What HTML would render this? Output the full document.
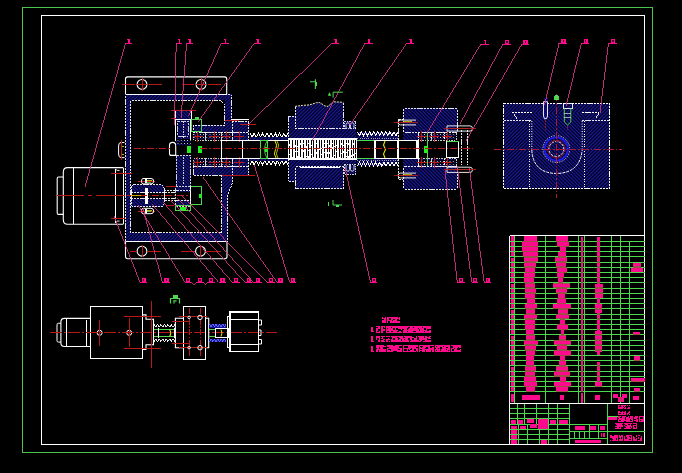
<!DOCTYPE html>
<html><head><meta charset="utf-8"><title>drawing</title>
<style>html,body{margin:0;padding:0;background:#000;width:682px;height:473px;overflow:hidden;font-family:"Liberation Sans",sans-serif;}
svg{display:block} line,rect,polyline{shape-rendering:crispEdges}</style></head>
<body><svg width="682" height="473" viewBox="0 0 682 473">
<rect width="682" height="473" fill="#000"/>
<defs>
<pattern id="hA" patternUnits="userSpaceOnUse" width="2.5" height="2.5" patternTransform="rotate(45)">
<rect width="2.5" height="2.5" fill="#04042c"/><rect width="1" height="2.5" fill="#1c1cac"/></pattern>
<pattern id="hB" patternUnits="userSpaceOnUse" width="2.5" height="2.5" patternTransform="rotate(-45)">
<rect width="2.5" height="2.5" fill="#04042c"/><rect width="1" height="2.5" fill="#1c1cac"/></pattern>
<pattern id="brg" patternUnits="userSpaceOnUse" width="3.2" height="3">
<rect width="3.2" height="3" fill="#020218"/><rect x="0" y="0" width="1" height="1" fill="#2020e0"/><rect x="1.6" y="1.5" width="1" height="1" fill="#e0e0ff"/></pattern>
<pattern id="thr" patternUnits="userSpaceOnUse" width="2.3" height="19">
<rect width="2.3" height="19" fill="#000"/><rect width="1.4" height="19" fill="#fff"/></pattern>
</defs>
<rect x="22.6" y="7.4" width="630.1" height="445.1" fill="none" stroke="#4cc44c" stroke-width="1.3" />
<rect x="41.6" y="15.6" width="603" height="428.8" fill="none" stroke="#ffffff" stroke-width="1.2" />
<path d="M125.5,94.4 V79 Q125.5,76.9 127.6,76.9 H224.6 Q226.7,76.9 226.7,79 V94.4" fill="none" stroke="#ffffff" stroke-width="1.1"/>
<circle cx="142" cy="84.4" r="4.9" fill="none" stroke="#ffffff" stroke-width="1.1"/>
<circle cx="201" cy="84.4" r="4.9" fill="none" stroke="#ffffff" stroke-width="1.1"/>
<line x1="122" y1="84.4" x2="135" y2="84.4" stroke="#b81818" stroke-width="1.1"/>
<line x1="137" y1="84.4" x2="147" y2="84.4" stroke="#b81818" stroke-width="1.1"/>
<line x1="149" y1="84.4" x2="161.5" y2="84.4" stroke="#b81818" stroke-width="1.1"/>
<line x1="181.5" y1="84.4" x2="194" y2="84.4" stroke="#b81818" stroke-width="1.1"/>
<line x1="196" y1="84.4" x2="206" y2="84.4" stroke="#b81818" stroke-width="1.1"/>
<line x1="208" y1="84.4" x2="220.6" y2="84.4" stroke="#b81818" stroke-width="1.1"/>
<line x1="142" y1="78" x2="142" y2="91" stroke="#b81818" stroke-width="1"/>
<line x1="201" y1="78" x2="201" y2="91" stroke="#b81818" stroke-width="1"/>
<path d="M125.5,241.3 V256.6 Q125.5,258.8 127.7,258.8 H224.8 Q227,258.8 227,256.6 V241.3" fill="none" stroke="#ffffff" stroke-width="1.1"/>
<circle cx="142" cy="251.2" r="4.9" fill="none" stroke="#ffffff" stroke-width="1.1"/>
<circle cx="200.5" cy="251.2" r="4.9" fill="none" stroke="#ffffff" stroke-width="1.1"/>
<line x1="130" y1="251.2" x2="137" y2="251.2" stroke="#b81818" stroke-width="1.1"/>
<line x1="147" y1="251.2" x2="161" y2="251.2" stroke="#b81818" stroke-width="1.1"/>
<line x1="181" y1="251.2" x2="195" y2="251.2" stroke="#b81818" stroke-width="1.1"/>
<line x1="206" y1="251.2" x2="221" y2="251.2" stroke="#b81818" stroke-width="1.1"/>
<line x1="142" y1="245" x2="142" y2="257" stroke="#b81818" stroke-width="1"/>
<line x1="200.5" y1="245" x2="200.5" y2="257" stroke="#b81818" stroke-width="1"/>
<rect x="125.5" y="94.4" width="5.1" height="146.9" fill="url(#hA)" stroke="none" stroke-width="1" />
<rect x="125.5" y="94.4" width="106" height="5.9" fill="url(#hA)" stroke="none" stroke-width="1" />
<rect x="224.5" y="94.4" width="7" height="31.6" fill="url(#hA)" stroke="none" stroke-width="1" />
<rect x="193" y="125.4" width="38.5" height="7" fill="url(#hA)" stroke="none" stroke-width="1" />
<rect x="231.5" y="120.8" width="17" height="12.2" fill="url(#hA)" stroke="none" stroke-width="1" />
<rect x="193" y="166" width="39.4" height="9.3" fill="url(#hA)" stroke="none" stroke-width="1" />
<rect x="232.4" y="158.8" width="16.1" height="16.5" fill="url(#hA)" stroke="none" stroke-width="1" />
<rect x="221.6" y="175" width="6.3" height="66.3" fill="url(#hA)" stroke="none" stroke-width="1" />
<rect x="125.5" y="232.8" width="102.4" height="8.5" fill="url(#hA)" stroke="none" stroke-width="1" />
<rect x="193" y="132.4" width="39" height="7.8" fill="url(#brg)" stroke="none" stroke-width="1" />
<rect x="193" y="158.8" width="39" height="7.4" fill="url(#brg)" stroke="none" stroke-width="1" />
<rect x="232" y="132.4" width="16.5" height="7.8" fill="url(#hA)" stroke="none" stroke-width="1" />
<polygon points="221.6,166 232.4,166 232.4,183.4 227.9,194.2 221.6,194.2" fill="url(#hA)" stroke="none" stroke-width="1"/>
<polyline points="130.6,232.8 130.6,100.6 221,100.6 224.3,103.8 224.3,125.6 193.2,125.6 193.2,132.4" fill="none" stroke="#ffffff" stroke-width="0.9" stroke-dasharray="2.2 0.9"/>
<polyline points="125.8,241 125.8,94.7 231.2,94.7 231.2,121 248.4,121 248.4,140" fill="none" stroke="#ffffff" stroke-width="0.9" stroke-dasharray="2.2 0.9"/>
<polyline points="193.2,166.2 193.2,175 221.6,175 221.6,232.8 130.6,232.8" fill="none" stroke="#ffffff" stroke-width="0.9" stroke-dasharray="2.2 0.9"/>
<polyline points="248.4,158.8 248.4,175.2 232.4,175.2 232.4,183.4 227.9,194.2 227.9,241 125.8,241" fill="none" stroke="#ffffff" stroke-width="0.9" stroke-dasharray="2.2 0.9"/>
<line x1="232.4" y1="158.8" x2="232.4" y2="175" stroke="#ffffff" stroke-width="0.9" stroke-dasharray="2.2 0.9"/>
<line x1="193" y1="132.6" x2="248.5" y2="132.6" stroke="#ffffff" stroke-width="0.9" stroke-dasharray="2.2 0.9"/>
<line x1="193" y1="166" x2="248.5" y2="166" stroke="#ffffff" stroke-width="0.9" stroke-dasharray="2.2 0.9"/>
<line x1="222" y1="175.5" x2="255" y2="175.5" stroke="#b81818" stroke-width="1"/>
<line x1="125.5" y1="94.5" x2="226.7" y2="94.5" stroke="#ffffff" stroke-width="1.1"/>
<line x1="125.5" y1="241.3" x2="227" y2="241.3" stroke="#ffffff" stroke-width="1.1"/>
<line x1="231" y1="119.8" x2="248.5" y2="119.8" stroke="#ffffff" stroke-width="1.1"/>
<line x1="225" y1="120.8" x2="238.5" y2="120.8" stroke="#b81818" stroke-width="1"/>
<line x1="240" y1="124.5" x2="256" y2="124.5" stroke="#b81818" stroke-width="1"/>
<rect x="193.5" y="132.8" width="11.5" height="7.2" fill="none" stroke="#ffffff" stroke-width="0.8" stroke-dasharray="1.5 1" />
<rect x="193.5" y="158.8" width="11.5" height="7.2" fill="none" stroke="#ffffff" stroke-width="0.8" stroke-dasharray="1.5 1" />
<rect x="205" y="132.8" width="16" height="7.2" fill="none" stroke="#ffffff" stroke-width="0.8" stroke-dasharray="1.5 1" />
<rect x="205" y="158.8" width="16" height="7.2" fill="none" stroke="#ffffff" stroke-width="0.8" stroke-dasharray="1.5 1" />
<rect x="221" y="132.8" width="11" height="7.2" fill="none" stroke="#ffffff" stroke-width="0.8" stroke-dasharray="1.5 1" />
<rect x="221" y="158.8" width="11" height="7.2" fill="none" stroke="#ffffff" stroke-width="0.8" stroke-dasharray="1.5 1" />
<line x1="232.4" y1="121" x2="232.4" y2="140" stroke="#ffffff" stroke-width="0.9" stroke-dasharray="2.2 0.9"/>
<line x1="192.5" y1="136.4" x2="202.5" y2="136.4" stroke="#b81818" stroke-width="1"/>
<line x1="197.5" y1="131" x2="197.5" y2="142" stroke="#b81818" stroke-width="1"/>
<line x1="192.5" y1="162.4" x2="202.5" y2="162.4" stroke="#b81818" stroke-width="1"/>
<line x1="197.5" y1="157" x2="197.5" y2="168" stroke="#b81818" stroke-width="1"/>
<line x1="209" y1="136.4" x2="219" y2="136.4" stroke="#b81818" stroke-width="1"/>
<line x1="214" y1="131" x2="214" y2="142" stroke="#b81818" stroke-width="1"/>
<line x1="209" y1="162.4" x2="219" y2="162.4" stroke="#b81818" stroke-width="1"/>
<line x1="214" y1="157" x2="214" y2="168" stroke="#b81818" stroke-width="1"/>
<line x1="221" y1="136.4" x2="231" y2="136.4" stroke="#b81818" stroke-width="1"/>
<line x1="226" y1="131" x2="226" y2="142" stroke="#b81818" stroke-width="1"/>
<line x1="221" y1="162.4" x2="231" y2="162.4" stroke="#b81818" stroke-width="1"/>
<line x1="226" y1="157" x2="226" y2="168" stroke="#b81818" stroke-width="1"/>
<line x1="234" y1="136.4" x2="244" y2="136.4" stroke="#b81818" stroke-width="1"/>
<line x1="239" y1="131" x2="239" y2="142" stroke="#b81818" stroke-width="1"/>
<line x1="234" y1="162.4" x2="244" y2="162.4" stroke="#b81818" stroke-width="1"/>
<line x1="239" y1="157" x2="239" y2="168" stroke="#b81818" stroke-width="1"/>
<rect x="175.4" y="110.3" width="15.6" height="9.5" fill="url(#hB)" stroke="none" stroke-width="1" />
<rect x="175.4" y="110.3" width="15.6" height="9.5" fill="none" stroke="#ffffff" stroke-width="1" />
<rect x="176.5" y="119.8" width="13.9" height="19.6" fill="url(#hB)" stroke="none" stroke-width="1" />
<rect x="175.8" y="119.8" width="14.8" height="20.4" fill="none" stroke="#ffffff" stroke-width="1" />
<rect x="177.8" y="121.2" width="10.4" height="15" fill="none" stroke="#ffffff" stroke-width="0.8" stroke-dasharray="2.2 0.9" />
<line x1="183.5" y1="121" x2="183.5" y2="138" stroke="#ffffff" stroke-width="0.8" stroke-dasharray="1.5 1"/>
<line x1="171" y1="110.5" x2="196" y2="110.5" stroke="#b81818" stroke-width="1"/>
<line x1="171" y1="118" x2="176" y2="118" stroke="#b81818" stroke-width="1"/>
<rect x="176" y="155.3" width="15" height="31" fill="url(#hB)" stroke="none" stroke-width="1" />
<rect x="176.4" y="155.6" width="14.2" height="30.4" fill="none" stroke="#ffffff" stroke-width="0.8" stroke-dasharray="2.2 0.9" />
<line x1="183.5" y1="157" x2="183.5" y2="185" stroke="#ffffff" stroke-width="0.8" stroke-dasharray="1.5 1"/>
<rect x="191.9" y="119.2" width="9.5" height="12.3" fill="none" stroke="#4ed84e" stroke-width="1" />
<rect x="195.3" y="117" width="3.5" height="2.4" fill="#4ed84e" stroke="none" stroke-width="1" />
<rect x="186.8" y="146.2" width="4.4" height="6.8" fill="#22ee22" stroke="none" stroke-width="1" />
<rect x="197.8" y="146.2" width="3.8" height="6.8" fill="#22ee22" stroke="none" stroke-width="1" />
<path d="M175.7,155.4 H171.5 Q169.5,155.4 169.5,153.4 V145.5 Q169.5,142.4 172.6,142.4 Q175.7,142.4 175.7,145.5 Z" fill="none" stroke="#ffffff" stroke-width="1.1"/>
<rect x="175.7" y="140.4" width="15.3" height="5.1" fill="url(#brg)" stroke="none" stroke-width="1" />
<line x1="221.3" y1="140.4" x2="221.3" y2="158.8" stroke="#ffffff" stroke-width="1.1"/>
<line x1="221.3" y1="140.4" x2="288.5" y2="140.4" stroke="#ffffff" stroke-width="1.1"/>
<line x1="221.3" y1="158.8" x2="288.5" y2="158.8" stroke="#ffffff" stroke-width="1.1"/>
<line x1="242.2" y1="140.4" x2="242.2" y2="158.8" stroke="#ffffff" stroke-width="1.1"/>
<line x1="260.6" y1="140.4" x2="260.6" y2="158.8" stroke="#ffffff" stroke-width="1.1"/>
<rect x="260.6" y="140.6" width="6.4" height="18" fill="none" stroke="#4ed84e" stroke-width="1" />
<path d="M267,141 Q262,149.6 267,158.2" fill="none" stroke="#4ed84e" stroke-width="0.9"/>
<rect x="265" y="147" width="2.5" height="5" fill="#22ee22" stroke="none" stroke-width="1" />
<path d="M275,141 Q278,145 275.5,149.5 Q273,154 276,158" fill="none" stroke="#e8e800" stroke-width="1"/>
<path d="M277,141 Q280,145 277.5,149.5 Q275,154 278,158" fill="none" stroke="#e8e800" stroke-width="0.8"/>
<polyline points="250,133.2 252.11,137.2 254.22,133.2 256.33,137.2 258.44,133.2 260.56,137.2 262.67,133.2 264.78,137.2 266.89,133.2 269,137.2 271.11,133.2 273.22,137.2 275.33,133.2 277.44,137.2 279.56,133.2 281.67,137.2 283.78,133.2 285.89,137.2 288,133.2" fill="none" stroke="#ffffff" stroke-width="1"/>
<polyline points="250,164.8 252.11,160.8 254.22,164.8 256.33,160.8 258.44,164.8 260.56,160.8 262.67,164.8 264.78,160.8 266.89,164.8 269,160.8 271.11,164.8 273.22,160.8 275.33,164.8 277.44,160.8 279.56,164.8 281.67,160.8 283.78,164.8 285.89,160.8 288,164.8" fill="none" stroke="#ffffff" stroke-width="1"/>
<rect x="250" y="137.2" width="38" height="2.6" fill="url(#hA)" stroke="none" stroke-width="1" />
<rect x="250" y="159.2" width="38" height="1.6" fill="url(#hA)" stroke="none" stroke-width="1" />
<rect x="357.4" y="131.8" width="40.6" height="8" fill="url(#hA)" stroke="none" stroke-width="1" />
<rect x="357.4" y="159.2" width="40.6" height="7.2" fill="url(#hA)" stroke="none" stroke-width="1" />
<polyline points="357.4,131.8 359.43,135.6 361.46,131.8 363.49,135.6 365.52,131.8 367.55,135.6 369.58,131.8 371.61,135.6 373.64,131.8 375.67,135.6 377.7,131.8 379.73,135.6 381.76,131.8 383.79,135.6 385.82,131.8 387.85,135.6 389.88,131.8 391.91,135.6 393.94,131.8 395.97,135.6 398,131.8" fill="none" stroke="#ffffff" stroke-width="1"/>
<polyline points="357.4,166 359.43,162.2 361.46,166 363.49,162.2 365.52,166 367.55,162.2 369.58,166 371.61,162.2 373.64,166 375.67,162.2 377.7,166 379.73,162.2 381.76,166 383.79,162.2 385.82,166 387.85,162.2 389.88,166 391.91,162.2 393.94,166 395.97,162.2 398,166" fill="none" stroke="#ffffff" stroke-width="1"/>
<line x1="357.4" y1="138.8" x2="398" y2="138.8" stroke="#ffffff" stroke-width="0.6" stroke-dasharray="1 1.2"/>
<line x1="357.4" y1="160" x2="398" y2="160" stroke="#ffffff" stroke-width="0.6" stroke-dasharray="1 1.2"/>
<path d="M295.1,106.4 L302.3,105.4 L309.5,104.9 L316.7,102.6 L319.8,102.6 L324.9,105.9 L328,106.4 L333.1,101.8 L343.4,102.3 L343.8,128.8 H295.2 Z" fill="url(#hA)" stroke="none" stroke-width="1"/>
<path d="M295.1,106.4 L302.3,105.4 L309.5,104.9 L316.7,102.6 L319.8,102.6 L324.9,105.9 L328,106.4 L333.1,101.8 L343.4,102.3" fill="none" stroke="#f0f0a0" stroke-width="1" stroke-dasharray="2 1"/>
<line x1="295.5" y1="106.6" x2="295.5" y2="128.8" stroke="#ffffff" stroke-width="0.9" stroke-dasharray="2.2 0.9"/>
<line x1="343.5" y1="103" x2="343.5" y2="128.8" stroke="#ffffff" stroke-width="0.9" stroke-dasharray="2.2 0.9"/>
<rect x="288.5" y="116.1" width="6.7" height="22.2" fill="url(#hA)" stroke="none" stroke-width="1" />
<line x1="288.8" y1="116.3" x2="295.2" y2="116.3" stroke="#ffffff" stroke-width="0.9" stroke-dasharray="2.2 0.9"/>
<line x1="288.8" y1="116.3" x2="288.8" y2="138.3" stroke="#ffffff" stroke-width="0.9" stroke-dasharray="2.2 0.9"/>
<rect x="288.5" y="128.8" width="67.5" height="9.8" fill="url(#hA)" stroke="none" stroke-width="1" />
<line x1="295.2" y1="128.9" x2="343.8" y2="128.9" stroke="#ffffff" stroke-width="0.9" stroke-dasharray="2.2 0.9"/>
<line x1="288.5" y1="138.4" x2="356" y2="138.4" stroke="#ffffff" stroke-width="0.9" stroke-dasharray="2.2 0.9"/>
<rect x="343.8" y="121.4" width="12.2" height="7.4" fill="url(#hB)" stroke="none" stroke-width="1" />
<rect x="344" y="121.6" width="11.6" height="7.2" fill="none" stroke="#ffffff" stroke-width="0.8" stroke-dasharray="1.5 1" />
<path d="M346,128.5 V124.5 Q346,122.8 347.8,122.8 Q349.5,122.8 349.5,124.5 V128.5 M350.5,128.5 V124.5 Q350.5,122.8 352.2,122.8 Q354,122.8 354,124.5 V128.5" fill="none" stroke="#ffffff" stroke-width="0.8"/>
<rect x="288.5" y="158.6" width="67.5" height="8.2" fill="url(#hA)" stroke="none" stroke-width="1" />
<rect x="295.2" y="166.8" width="48.6" height="22.2" fill="url(#hA)" stroke="none" stroke-width="1" />
<rect x="288.5" y="158.6" width="6.7" height="23" fill="url(#hA)" stroke="none" stroke-width="1" />
<rect x="295.5" y="166.9" width="48" height="21.8" fill="none" stroke="#ffffff" stroke-width="0.9" stroke-dasharray="2.2 0.9" />
<line x1="288.8" y1="158.6" x2="288.8" y2="181.4" stroke="#ffffff" stroke-width="0.9" stroke-dasharray="2.2 0.9"/>
<line x1="288.8" y1="181.4" x2="295.2" y2="181.4" stroke="#ffffff" stroke-width="0.9" stroke-dasharray="2.2 0.9"/>
<line x1="288.5" y1="158.8" x2="356" y2="158.8" stroke="#ffffff" stroke-width="0.9" stroke-dasharray="2.2 0.9"/>
<line x1="300" y1="167.5" x2="340" y2="167.5" stroke="#ffffff" stroke-width="1"/>
<rect x="343.8" y="164.7" width="12.2" height="9.5" fill="url(#hB)" stroke="none" stroke-width="1" />
<rect x="344" y="164.9" width="11.6" height="9.1" fill="none" stroke="#ffffff" stroke-width="0.8" stroke-dasharray="1.5 1" />
<path d="M346,165 V169.5 Q346,171.2 347.8,171.2 Q349.5,171.2 349.5,169.5 V165 M350.5,165 V169.5 Q350.5,171.2 352.2,171.2 Q354,171.2 354,169.5 V165" fill="none" stroke="#ffffff" stroke-width="0.8"/>
<rect x="287.5" y="138.4" width="69.1" height="21.2" fill="#ffffff" stroke="none" stroke-width="1" />
<rect x="289" y="140" width="1" height="4" fill="#000" stroke="none" stroke-width="1" />
<rect x="289" y="146" width="1" height="8" fill="#000" stroke="none" stroke-width="1" />
<rect x="289" y="155" width="1" height="3" fill="#000" stroke="none" stroke-width="1" />
<rect x="292" y="140" width="1" height="8" fill="#000" stroke="none" stroke-width="1" />
<rect x="292" y="149" width="1" height="8" fill="#000" stroke="none" stroke-width="1" />
<rect x="295" y="140" width="1" height="5" fill="#000" stroke="none" stroke-width="1" />
<rect x="295" y="147" width="1" height="4" fill="#000" stroke="none" stroke-width="1" />
<rect x="295" y="152" width="1" height="6" fill="#000" stroke="none" stroke-width="1" />
<rect x="297" y="140" width="1" height="6" fill="#000" stroke="none" stroke-width="1" />
<rect x="297" y="147" width="1" height="4" fill="#000" stroke="none" stroke-width="1" />
<rect x="297" y="152" width="1" height="4" fill="#000" stroke="none" stroke-width="1" />
<rect x="300" y="140" width="1" height="3" fill="#000" stroke="none" stroke-width="1" />
<rect x="300" y="145" width="1" height="3" fill="#000" stroke="none" stroke-width="1" />
<rect x="300" y="149" width="1" height="8" fill="#000" stroke="none" stroke-width="1" />
<rect x="303" y="140" width="1" height="3" fill="#000" stroke="none" stroke-width="1" />
<rect x="303" y="144" width="1" height="6" fill="#000" stroke="none" stroke-width="1" />
<rect x="303" y="152" width="1" height="6" fill="#000" stroke="none" stroke-width="1" />
<rect x="306" y="140" width="1" height="6" fill="#000" stroke="none" stroke-width="1" />
<rect x="306" y="148" width="1" height="8" fill="#000" stroke="none" stroke-width="1" />
<rect x="306" y="157" width="1" height="1" fill="#000" stroke="none" stroke-width="1" />
<rect x="308" y="140" width="1" height="3" fill="#000" stroke="none" stroke-width="1" />
<rect x="308" y="144" width="1" height="6" fill="#000" stroke="none" stroke-width="1" />
<rect x="308" y="151" width="1" height="5" fill="#000" stroke="none" stroke-width="1" />
<rect x="311" y="140" width="1" height="5" fill="#000" stroke="none" stroke-width="1" />
<rect x="311" y="146" width="1" height="8" fill="#000" stroke="none" stroke-width="1" />
<rect x="311" y="155" width="1" height="3" fill="#000" stroke="none" stroke-width="1" />
<rect x="313" y="140" width="1" height="8" fill="#000" stroke="none" stroke-width="1" />
<rect x="313" y="149" width="1" height="8" fill="#000" stroke="none" stroke-width="1" />
<rect x="316" y="140" width="1" height="3" fill="#000" stroke="none" stroke-width="1" />
<rect x="316" y="144" width="1" height="8" fill="#000" stroke="none" stroke-width="1" />
<rect x="316" y="154" width="1" height="4" fill="#000" stroke="none" stroke-width="1" />
<rect x="319" y="140" width="1" height="8" fill="#000" stroke="none" stroke-width="1" />
<rect x="319" y="150" width="1" height="8" fill="#000" stroke="none" stroke-width="1" />
<rect x="321" y="140" width="1" height="8" fill="#000" stroke="none" stroke-width="1" />
<rect x="321" y="149" width="1" height="5" fill="#000" stroke="none" stroke-width="1" />
<rect x="321" y="155" width="1" height="3" fill="#000" stroke="none" stroke-width="1" />
<rect x="324" y="140" width="1" height="3" fill="#000" stroke="none" stroke-width="1" />
<rect x="324" y="144" width="1" height="3" fill="#000" stroke="none" stroke-width="1" />
<rect x="324" y="148" width="1" height="4" fill="#000" stroke="none" stroke-width="1" />
<rect x="324" y="153" width="1" height="5" fill="#000" stroke="none" stroke-width="1" />
<rect x="327" y="140" width="1" height="3" fill="#000" stroke="none" stroke-width="1" />
<rect x="327" y="144" width="1" height="8" fill="#000" stroke="none" stroke-width="1" />
<rect x="327" y="154" width="1" height="3" fill="#000" stroke="none" stroke-width="1" />
<rect x="329" y="140" width="1" height="5" fill="#000" stroke="none" stroke-width="1" />
<rect x="329" y="147" width="1" height="5" fill="#000" stroke="none" stroke-width="1" />
<rect x="329" y="154" width="1" height="4" fill="#000" stroke="none" stroke-width="1" />
<rect x="332" y="140" width="1" height="3" fill="#000" stroke="none" stroke-width="1" />
<rect x="332" y="144" width="1" height="3" fill="#000" stroke="none" stroke-width="1" />
<rect x="332" y="149" width="1" height="8" fill="#000" stroke="none" stroke-width="1" />
<rect x="334" y="140" width="1" height="6" fill="#000" stroke="none" stroke-width="1" />
<rect x="334" y="147" width="1" height="8" fill="#000" stroke="none" stroke-width="1" />
<rect x="334" y="156" width="1" height="2" fill="#000" stroke="none" stroke-width="1" />
<rect x="336" y="140" width="1" height="5" fill="#000" stroke="none" stroke-width="1" />
<rect x="336" y="146" width="1" height="5" fill="#000" stroke="none" stroke-width="1" />
<rect x="336" y="152" width="1" height="6" fill="#000" stroke="none" stroke-width="1" />
<rect x="339" y="140" width="1" height="8" fill="#000" stroke="none" stroke-width="1" />
<rect x="339" y="149" width="1" height="8" fill="#000" stroke="none" stroke-width="1" />
<rect x="341" y="140" width="1" height="3" fill="#000" stroke="none" stroke-width="1" />
<rect x="341" y="145" width="1" height="8" fill="#000" stroke="none" stroke-width="1" />
<rect x="341" y="154" width="1" height="4" fill="#000" stroke="none" stroke-width="1" />
<rect x="343" y="140" width="1" height="5" fill="#000" stroke="none" stroke-width="1" />
<rect x="343" y="146" width="1" height="5" fill="#000" stroke="none" stroke-width="1" />
<rect x="343" y="153" width="1" height="5" fill="#000" stroke="none" stroke-width="1" />
<rect x="346" y="140" width="1" height="3" fill="#000" stroke="none" stroke-width="1" />
<rect x="346" y="144" width="1" height="8" fill="#000" stroke="none" stroke-width="1" />
<rect x="346" y="153" width="1" height="3" fill="#000" stroke="none" stroke-width="1" />
<rect x="346" y="157" width="1" height="1" fill="#000" stroke="none" stroke-width="1" />
<rect x="348" y="140" width="1" height="3" fill="#000" stroke="none" stroke-width="1" />
<rect x="348" y="145" width="1" height="5" fill="#000" stroke="none" stroke-width="1" />
<rect x="348" y="151" width="1" height="5" fill="#000" stroke="none" stroke-width="1" />
<rect x="351" y="140" width="1" height="8" fill="#000" stroke="none" stroke-width="1" />
<rect x="351" y="150" width="1" height="5" fill="#000" stroke="none" stroke-width="1" />
<rect x="351" y="157" width="1" height="1" fill="#000" stroke="none" stroke-width="1" />
<rect x="353" y="140" width="1" height="3" fill="#000" stroke="none" stroke-width="1" />
<rect x="353" y="145" width="1" height="3" fill="#000" stroke="none" stroke-width="1" />
<rect x="353" y="149" width="1" height="5" fill="#000" stroke="none" stroke-width="1" />
<rect x="353" y="156" width="1" height="2" fill="#000" stroke="none" stroke-width="1" />
<rect x="355" y="140" width="1" height="8" fill="#000" stroke="none" stroke-width="1" />
<rect x="355" y="149" width="1" height="4" fill="#000" stroke="none" stroke-width="1" />
<rect x="355" y="154" width="1" height="4" fill="#000" stroke="none" stroke-width="1" />
<line x1="287.6" y1="148.8" x2="356" y2="148.8" stroke="#c01818" stroke-width="1" stroke-dasharray="7 2 1.5 2" stroke-opacity="0.6"/>
<line x1="356" y1="140.4" x2="403.5" y2="140.4" stroke="#ffffff" stroke-width="1.1"/>
<line x1="356" y1="158.8" x2="403.5" y2="158.8" stroke="#ffffff" stroke-width="1.1"/>
<line x1="357" y1="140.6" x2="375" y2="140.6" stroke="#4ed84e" stroke-width="1.1"/>
<line x1="357" y1="158.4" x2="375" y2="158.4" stroke="#4ed84e" stroke-width="1.1"/>
<line x1="375" y1="140.4" x2="375" y2="158.8" stroke="#ffffff" stroke-width="1.1"/>
<line x1="398" y1="140.4" x2="398" y2="158.8" stroke="#ffffff" stroke-width="1.1"/>
<line x1="416.7" y1="140.4" x2="416.7" y2="158.8" stroke="#ffffff" stroke-width="1.1"/>
<path d="M385,141 L383.5,145 L385.5,149.5 L383.5,154 L385,158" fill="none" stroke="#e8e800" stroke-width="1.1"/>
<rect x="403" y="108.4" width="54.7" height="24" fill="url(#hB)" stroke="none" stroke-width="1" />
<rect x="403" y="166.2" width="54.7" height="23.2" fill="url(#hB)" stroke="none" stroke-width="1" />
<rect x="403" y="132.4" width="15" height="7.8" fill="url(#hB)" stroke="none" stroke-width="1" />
<rect x="403" y="158.6" width="15" height="7.6" fill="url(#hB)" stroke="none" stroke-width="1" />
<rect x="418" y="132.6" width="38" height="7.6" fill="url(#brg)" stroke="none" stroke-width="1" />
<rect x="418" y="158.6" width="38" height="7.6" fill="url(#brg)" stroke="none" stroke-width="1" />
<rect x="403.4" y="108.8" width="53.9" height="23.6" fill="none" stroke="#ffffff" stroke-width="0.9" stroke-dasharray="2.2 0.9" rx="1.5" />
<rect x="403.4" y="166.2" width="53.9" height="22.8" fill="none" stroke="#ffffff" stroke-width="0.9" stroke-dasharray="2.2 0.9" rx="1.5" />
<line x1="398.8" y1="119" x2="398.8" y2="140" stroke="#ffffff" stroke-width="0.9" stroke-dasharray="2.2 0.9"/>
<line x1="398.8" y1="158.6" x2="398.8" y2="179" stroke="#ffffff" stroke-width="0.9" stroke-dasharray="2.2 0.9"/>
<line x1="398.8" y1="119" x2="403" y2="119" stroke="#ffffff" stroke-width="0.9" stroke-dasharray="2.2 0.9"/>
<line x1="398.8" y1="179" x2="403" y2="179" stroke="#ffffff" stroke-width="0.9" stroke-dasharray="2.2 0.9"/>
<line x1="418" y1="132.6" x2="418" y2="166" stroke="#ffffff" stroke-width="0.9" stroke-dasharray="2.2 0.9"/>
<rect x="418" y="132.8" width="13" height="7.2" fill="none" stroke="#ffffff" stroke-width="0.8" stroke-dasharray="1.5 1" />
<rect x="418" y="158.8" width="13" height="7.2" fill="none" stroke="#ffffff" stroke-width="0.8" stroke-dasharray="1.5 1" />
<rect x="431" y="132.8" width="13" height="7.2" fill="none" stroke="#ffffff" stroke-width="0.8" stroke-dasharray="1.5 1" />
<rect x="431" y="158.8" width="13" height="7.2" fill="none" stroke="#ffffff" stroke-width="0.8" stroke-dasharray="1.5 1" />
<rect x="444" y="132.8" width="12" height="7.2" fill="none" stroke="#ffffff" stroke-width="0.8" stroke-dasharray="1.5 1" />
<rect x="444" y="158.8" width="12" height="7.2" fill="none" stroke="#ffffff" stroke-width="0.8" stroke-dasharray="1.5 1" />
<line x1="416.5" y1="136.4" x2="426.5" y2="136.4" stroke="#b81818" stroke-width="1"/>
<line x1="421.5" y1="131" x2="421.5" y2="142" stroke="#b81818" stroke-width="1"/>
<line x1="416.5" y1="162.4" x2="426.5" y2="162.4" stroke="#b81818" stroke-width="1"/>
<line x1="421.5" y1="157" x2="421.5" y2="168" stroke="#b81818" stroke-width="1"/>
<line x1="429" y1="136.4" x2="439" y2="136.4" stroke="#b81818" stroke-width="1"/>
<line x1="434" y1="131" x2="434" y2="142" stroke="#b81818" stroke-width="1"/>
<line x1="429" y1="162.4" x2="439" y2="162.4" stroke="#b81818" stroke-width="1"/>
<line x1="434" y1="157" x2="434" y2="168" stroke="#b81818" stroke-width="1"/>
<line x1="442" y1="136.4" x2="452" y2="136.4" stroke="#b81818" stroke-width="1"/>
<line x1="447" y1="131" x2="447" y2="142" stroke="#b81818" stroke-width="1"/>
<line x1="442" y1="162.4" x2="452" y2="162.4" stroke="#b81818" stroke-width="1"/>
<line x1="447" y1="157" x2="447" y2="168" stroke="#b81818" stroke-width="1"/>
<line x1="427" y1="133" x2="427" y2="166" stroke="#4ed84e" stroke-width="1"/>
<rect x="424" y="146" width="3.5" height="7" fill="#22ee22" stroke="none" stroke-width="1" />
<line x1="398" y1="140.4" x2="418" y2="140.4" stroke="#ffffff" stroke-width="1.1"/>
<line x1="398" y1="158.6" x2="418" y2="158.6" stroke="#ffffff" stroke-width="1.1"/>
<line x1="418" y1="140.4" x2="418" y2="158.6" stroke="#ffffff" stroke-width="1.1"/>
<rect x="446.2" y="141.2" width="12.7" height="16.1" fill="none" stroke="#ffffff" stroke-width="1.1" />
<line x1="446.5" y1="141.4" x2="458.6" y2="141.4" stroke="#4ed84e" stroke-width="1"/>
<line x1="461.7" y1="130" x2="461.7" y2="165.4" stroke="#ffffff" stroke-width="0.9" stroke-dasharray="2.2 0.9"/>
<line x1="467.6" y1="130" x2="467.6" y2="165.4" stroke="#ffffff" stroke-width="0.9" stroke-dasharray="2.2 0.9"/>
<path d="M447,125.9 H470 Q472.5,125.9 472.5,128.5 Q472.5,131.1 470,131.1 H447 Z" fill="none" stroke="#ffffff" stroke-width="0.9"/>
<line x1="450" y1="128.5" x2="468" y2="128.5" stroke="#4ed84e" stroke-width="1.2"/>
<line x1="444" y1="128.5" x2="476" y2="128.5" stroke="#b81818" stroke-width="0.9"/>
<path d="M447,167.20000000000002 H470 Q472.5,167.20000000000002 472.5,169.8 Q472.5,172.4 470,172.4 H447 Z" fill="none" stroke="#ffffff" stroke-width="0.9"/>
<line x1="450" y1="169.8" x2="468" y2="169.8" stroke="#4ed84e" stroke-width="1.2"/>
<line x1="444" y1="169.8" x2="476" y2="169.8" stroke="#b81818" stroke-width="0.9"/>
<path d="M416,120.1 H400.5 Q398,120.1 398,122.5 Q398,124.9 400.5,124.9 H416" fill="none" stroke="#ffffff" stroke-width="0.9"/>
<line x1="401" y1="122.5" x2="414" y2="122.5" stroke="#4ed84e" stroke-width="1.1"/>
<line x1="403" y1="121.7" x2="412" y2="121.7" stroke="#e8e800" stroke-width="0.7"/>
<line x1="394" y1="122.5" x2="418" y2="122.5" stroke="#b81818" stroke-width="0.9"/>
<path d="M416,173.1 H400.5 Q398,173.1 398,175.5 Q398,177.9 400.5,177.9 H416" fill="none" stroke="#ffffff" stroke-width="0.9"/>
<line x1="401" y1="175.5" x2="414" y2="175.5" stroke="#4ed84e" stroke-width="1.1"/>
<line x1="403" y1="174.7" x2="412" y2="174.7" stroke="#e8e800" stroke-width="0.7"/>
<line x1="394" y1="175.5" x2="418" y2="175.5" stroke="#b81818" stroke-width="0.9"/>
<rect x="503.2" y="103.2" width="106.6" height="86" fill="url(#hA)" stroke="none" stroke-width="1" />
<rect x="529.5" y="112.5" width="55" height="76.5" fill="url(#hB)" stroke="none" stroke-width="1" />
<rect x="503.6" y="103.6" width="105.8" height="85.2" fill="none" stroke="#ffffff" stroke-width="1" stroke-dasharray="2.2 0.9" />
<line x1="511.6" y1="112.6" x2="531.8" y2="112.6" stroke="#ffffff" stroke-width="1" stroke-dasharray="2.2 0.9"/>
<line x1="582.2" y1="112.6" x2="599" y2="112.6" stroke="#ffffff" stroke-width="1" stroke-dasharray="2.2 0.9"/>
<line x1="503.6" y1="120.6" x2="531.8" y2="120.6" stroke="#ffffff" stroke-width="0.9" stroke-dasharray="2.2 0.9"/>
<line x1="582.2" y1="120.6" x2="609.4" y2="120.6" stroke="#ffffff" stroke-width="0.9" stroke-dasharray="2.2 0.9"/>
<line x1="529.5" y1="121" x2="529.5" y2="189" stroke="#ffffff" stroke-width="1" stroke-dasharray="1 1.5"/>
<line x1="584.5" y1="121" x2="584.5" y2="189" stroke="#ffffff" stroke-width="1" stroke-dasharray="1 1.5"/>
<path d="M531.8,121 V150" fill="none" stroke="#ffffff" stroke-width="1" stroke-dasharray="1 1.5"/>
<path d="M582.2,121 V150" fill="none" stroke="#ffffff" stroke-width="1" stroke-dasharray="1 1.5"/>
<path d="M531.8,150 Q533,173 556.5,173.5 Q580,173 582.2,150" fill="none" stroke="#ffffff" stroke-width="1" stroke-dasharray="3 1"/>
<line x1="514" y1="114" x2="517" y2="119" stroke="#ffffff" stroke-width="0.9"/>
<line x1="599" y1="113" x2="596" y2="118" stroke="#ffffff" stroke-width="0.9"/>
<circle cx="556.3" cy="149" r="11.6" fill="none" stroke="#1c1cf0" stroke-width="1.8"/>
<circle cx="556.3" cy="149" r="13.4" fill="none" stroke="#ffffff" stroke-width="0.9" stroke-dasharray="1 1.4"/>
<circle cx="556.3" cy="149" r="8.6" fill="none" stroke="#c01818" stroke-width="1" stroke-dasharray="3 1"/>
<circle cx="556.3" cy="149" r="7.4" fill="none" stroke="#ffffff" stroke-width="0.9" stroke-dasharray="2.5 1.2"/>
<rect x="544" y="97.5" width="3.5" height="21" fill="#0a0a70" stroke="none" stroke-width="1" />
<path d="M543.5,101.7 H547.5 V116 L546.5,118.7 H544.5 L543.5,116 Z" fill="none" stroke="#ffffff" stroke-width="0.9"/>
<rect x="563.5" y="103.9" width="8.9" height="4.4" fill="none" stroke="#ffffff" stroke-width="0.9" />
<path d="M564.3,108.3 V122 L567.5,125 L570.8,122 V108.3" fill="none" stroke="#4ed84e" stroke-width="0.9"/>
<line x1="564.3" y1="113" x2="570.8" y2="113" stroke="#ffffff" stroke-width="0.6"/>
<line x1="564.3" y1="117" x2="570.8" y2="117" stroke="#ffffff" stroke-width="0.6"/>
<line x1="545.5" y1="120" x2="545.5" y2="130" stroke="#b81818" stroke-width="0.8" stroke-dasharray="2 1"/>
<line x1="567.5" y1="126" x2="567.5" y2="130" stroke="#b81818" stroke-width="0.8" stroke-dasharray="2 1"/>
<line x1="494" y1="149" x2="622" y2="149" stroke="#a81838" stroke-width="1" stroke-dasharray="7 2 1.5 2"/>
<line x1="556.5" y1="94" x2="556.5" y2="198" stroke="#b01830" stroke-width="1" stroke-dasharray="7 2 1.5 2"/>
<path d="M123.4,167.6 H67.5 Q63.3,167.6 63.3,172 V219.8 Q63.3,224.3 67.5,224.3 H123.4" fill="none" stroke="#ffffff" stroke-width="1.1"/>
<path d="M63.3,177 H58.5 Q57.2,177 57.2,178.5 V213 Q57.2,214.4 58.5,214.4 H63.3" fill="none" stroke="#ffffff" stroke-width="1.1"/>
<line x1="73.4" y1="167.6" x2="73.4" y2="224.3" stroke="#ffffff" stroke-width="1.1"/>
<line x1="115.2" y1="169" x2="115.2" y2="223" stroke="#ffffff" stroke-width="1.1"/>
<line x1="123.4" y1="167.6" x2="123.4" y2="224.3" stroke="#ffffff" stroke-width="1.1"/>
<path d="M115.2,169 Q117,171 119.5,170.5 M115.2,222.5 Q117,220.5 119.5,221" fill="none" stroke="#ffffff" stroke-width="0.9"/>
<line x1="110.6" y1="173.3" x2="132" y2="173.3" stroke="#b81818" stroke-width="1.1"/>
<line x1="110.6" y1="218.2" x2="125" y2="218.2" stroke="#b81818" stroke-width="1.1"/>
<line x1="57" y1="195.4" x2="84" y2="195.4" stroke="#b81818" stroke-width="1.1"/>
<line x1="88" y1="195.4" x2="92" y2="195.4" stroke="#b81818" stroke-width="1.1"/>
<line x1="96" y1="195.4" x2="125" y2="195.4" stroke="#b81818" stroke-width="1.1"/>
<path d="M124.5,142.5 H121 Q118.6,142.5 118.6,146 V154 Q118.6,157.6 121,157.6 H124.5" fill="none" stroke="#ffffff" stroke-width="1"/>
<line x1="120.5" y1="146" x2="124" y2="146" stroke="#e8e800" stroke-width="0.8"/>
<line x1="120.5" y1="154" x2="124" y2="154" stroke="#e8e800" stroke-width="0.8"/>
<line x1="121.5" y1="139.5" x2="121.5" y2="160" stroke="#b81818" stroke-width="1"/>
<line x1="134" y1="148.6" x2="170" y2="148.6" stroke="#b81818" stroke-width="1" stroke-dasharray="7 2 1.5 2"/>
<line x1="200" y1="148.8" x2="473" y2="148.8" stroke="#b81818" stroke-width="1" stroke-dasharray="7 2 1.5 2"/>
<rect x="130.6" y="184.5" width="33.8" height="22.8" fill="url(#hB)" stroke="none" stroke-width="1" rx="3" />
<rect x="130.6" y="192.9" width="33.8" height="5.7" fill="#000" stroke="none" stroke-width="1" />
<rect x="131" y="184.9" width="33" height="22" fill="none" stroke="#ffffff" stroke-width="0.9" stroke-dasharray="2.2 0.9" rx="3" />
<line x1="131" y1="192.9" x2="190.4" y2="192.9" stroke="#ffffff" stroke-width="0.9" stroke-dasharray="2.2 0.9"/>
<line x1="131" y1="198.6" x2="190.4" y2="198.6" stroke="#ffffff" stroke-width="0.9" stroke-dasharray="2.2 0.9"/>
<rect x="175.4" y="186.3" width="15" height="20.1" fill="url(#hB)" stroke="none" stroke-width="1" />
<rect x="175.4" y="191.8" width="15" height="7.8" fill="#000" stroke="none" stroke-width="1" />
<rect x="175.7" y="186.3" width="14.4" height="19.9" fill="none" stroke="#ffffff" stroke-width="0.8" stroke-dasharray="2.2 0.9" />
<rect x="164" y="190.8" width="26.4" height="9.4" fill="none" stroke="#ffffff" stroke-width="0.9" stroke-dasharray="2.2 0.9" />
<rect x="145" y="188" width="3" height="16" fill="#ffffff" stroke="none" stroke-width="1" />
<line x1="127" y1="195.4" x2="190" y2="195.4" stroke="#b81818" stroke-width="1" stroke-dasharray="7 2 1.5 2"/>
<line x1="131" y1="195.6" x2="141" y2="195.6" stroke="#e8e800" stroke-width="0.7"/>
<line x1="190.4" y1="186.4" x2="201.8" y2="186.4" stroke="#4ed84e" stroke-width="1"/>
<line x1="201.8" y1="186.4" x2="201.8" y2="204" stroke="#4ed84e" stroke-width="1"/>
<line x1="190.4" y1="204" x2="201.8" y2="204" stroke="#4ed84e" stroke-width="1"/>
<line x1="190.4" y1="186.4" x2="190.4" y2="204" stroke="#ffffff" stroke-width="0.9" stroke-dasharray="2.2 0.9"/>
<rect x="198.5" y="193.5" width="3.3" height="4.5" fill="#22ee22" stroke="none" stroke-width="1" />
<rect x="175.4" y="205.8" width="15" height="4.4" fill="none" stroke="#4ed84e" stroke-width="1" />
<rect x="180" y="207" width="5.5" height="3" fill="#22ee22" stroke="none" stroke-width="1" />
<line x1="137.6" y1="181.2" x2="155.2" y2="181.2" stroke="#b81818" stroke-width="1"/>
<path d="M143,178.5 H151 Q153.7,178.5 153.7,181.2 Q153.7,183.89999999999998 151,183.89999999999998 H143 Q141.5,183.89999999999998 141.5,181.2 Q141.5,178.5 143,178.5 Z" fill="none" stroke="#ffffff" stroke-width="1"/>
<line x1="146.5" y1="180.4" x2="152" y2="180.4" stroke="#e8e800" stroke-width="0.8"/>
<line x1="146.5" y1="182" x2="151" y2="182" stroke="#4ed84e" stroke-width="0.8"/>
<rect x="144.5" y="179.2" width="2" height="4" fill="#ffffff" stroke="none" stroke-width="1" />
<line x1="137.6" y1="211" x2="155.2" y2="211" stroke="#b81818" stroke-width="1"/>
<path d="M143,208.3 H151 Q153.7,208.3 153.7,211 Q153.7,213.7 151,213.7 H143 Q141.5,213.7 141.5,211 Q141.5,208.3 143,208.3 Z" fill="none" stroke="#ffffff" stroke-width="1"/>
<line x1="146.5" y1="210.2" x2="152" y2="210.2" stroke="#e8e800" stroke-width="0.8"/>
<line x1="146.5" y1="211.8" x2="151" y2="211.8" stroke="#4ed84e" stroke-width="0.8"/>
<rect x="144.5" y="209" width="2" height="4" fill="#ffffff" stroke="none" stroke-width="1" />
<line x1="165.7" y1="186.4" x2="176.3" y2="186.4" stroke="#b81818" stroke-width="1"/>
<line x1="166.6" y1="205.8" x2="173.7" y2="205.8" stroke="#b81818" stroke-width="1"/>
<line x1="125.5" y1="43.4" x2="132" y2="43.4" stroke="#ff0a8c" stroke-width="1"/>
<rect x="128.27" y="39" width="1.6" height="4" fill="#ff0a8c" stroke="none" stroke-width="1" />
<rect x="127.47" y="39" width="1.8" height="1" fill="#ff0a8c" stroke="none" stroke-width="1" />
<line x1="125.5" y1="43.4" x2="85" y2="187" stroke="#cc3480" stroke-width="0.9"/>
<line x1="176.2" y1="43.4" x2="182.4" y2="43.4" stroke="#ff0a8c" stroke-width="1"/>
<rect x="178.81" y="39" width="1.6" height="4" fill="#ff0a8c" stroke="none" stroke-width="1" />
<rect x="178.01" y="39" width="1.8" height="1" fill="#ff0a8c" stroke="none" stroke-width="1" />
<line x1="176.2" y1="43.4" x2="174.5" y2="125" stroke="#cc3480" stroke-width="0.9"/>
<line x1="186.6" y1="43.4" x2="192.7" y2="43.4" stroke="#ff0a8c" stroke-width="1"/>
<rect x="189.15" y="39" width="1.6" height="4" fill="#ff0a8c" stroke="none" stroke-width="1" />
<rect x="188.35" y="39" width="1.8" height="1" fill="#ff0a8c" stroke="none" stroke-width="1" />
<line x1="186.6" y1="43.4" x2="181" y2="118" stroke="#cc3480" stroke-width="0.9"/>
<line x1="221.2" y1="43.4" x2="228.8" y2="43.4" stroke="#ff0a8c" stroke-width="1"/>
<rect x="224.58" y="39" width="1.6" height="4" fill="#ff0a8c" stroke="none" stroke-width="1" />
<rect x="223.78" y="39" width="1.8" height="1" fill="#ff0a8c" stroke="none" stroke-width="1" />
<line x1="221.2" y1="43.4" x2="188.5" y2="116" stroke="#cc3480" stroke-width="0.9"/>
<line x1="254.1" y1="43.4" x2="260.8" y2="43.4" stroke="#ff0a8c" stroke-width="1"/>
<rect x="256.99" y="39" width="1.6" height="4" fill="#ff0a8c" stroke="none" stroke-width="1" />
<rect x="256.19" y="39" width="1.8" height="1" fill="#ff0a8c" stroke="none" stroke-width="1" />
<line x1="254.1" y1="43.4" x2="198" y2="122" stroke="#cc3480" stroke-width="0.9"/>
<line x1="332" y1="43.4" x2="339" y2="43.4" stroke="#ff0a8c" stroke-width="1"/>
<rect x="335.05" y="39" width="1.6" height="4" fill="#ff0a8c" stroke="none" stroke-width="1" />
<rect x="334.25" y="39" width="1.8" height="1" fill="#ff0a8c" stroke="none" stroke-width="1" />
<line x1="332" y1="43.4" x2="249.4" y2="123.6" stroke="#cc3480" stroke-width="0.9"/>
<line x1="364.8" y1="43.4" x2="372.8" y2="43.4" stroke="#ff0a8c" stroke-width="1"/>
<rect x="368.4" y="39" width="1.6" height="4" fill="#ff0a8c" stroke="none" stroke-width="1" />
<rect x="367.6" y="39" width="1.8" height="1" fill="#ff0a8c" stroke="none" stroke-width="1" />
<line x1="364.8" y1="43.4" x2="312" y2="141" stroke="#cc3480" stroke-width="0.9"/>
<line x1="406.7" y1="43.4" x2="414" y2="43.4" stroke="#ff0a8c" stroke-width="1"/>
<rect x="409.91" y="39" width="1.6" height="4" fill="#ff0a8c" stroke="none" stroke-width="1" />
<rect x="409.11" y="39" width="1.8" height="1" fill="#ff0a8c" stroke="none" stroke-width="1" />
<line x1="406.7" y1="43.4" x2="350" y2="125" stroke="#cc3480" stroke-width="0.9"/>
<line x1="480.8" y1="44.2" x2="489" y2="44.2" stroke="#ff0a8c" stroke-width="1"/>
<rect x="484.51" y="39.8" width="1.6" height="4" fill="#ff0a8c" stroke="none" stroke-width="1" />
<rect x="483.71" y="39.8" width="1.8" height="1" fill="#ff0a8c" stroke="none" stroke-width="1" />
<line x1="480.8" y1="44.2" x2="427" y2="133" stroke="#cc3480" stroke-width="0.9"/>
<line x1="502.8" y1="44.2" x2="510.7" y2="44.2" stroke="#ff0a8c" stroke-width="1"/>
<rect x="504.94" y="39.8" width="4.2" height="4" fill="#ff0a8c" stroke="none" stroke-width="1" />
<rect x="506.14" y="40.8" width="1.4" height="1.8" fill="#500028" stroke="none" stroke-width="1" />
<line x1="502.8" y1="44.2" x2="460" y2="124" stroke="#cc3480" stroke-width="0.9"/>
<line x1="521.8" y1="44.2" x2="528.6" y2="44.2" stroke="#ff0a8c" stroke-width="1"/>
<rect x="523.34" y="39.8" width="4.2" height="4" fill="#ff0a8c" stroke="none" stroke-width="1" />
<rect x="524.54" y="40.8" width="1.4" height="1.8" fill="#500028" stroke="none" stroke-width="1" />
<line x1="521.8" y1="44.2" x2="466.3" y2="140.5" stroke="#cc3480" stroke-width="0.9"/>
<line x1="559" y1="43.4" x2="567.3" y2="43.4" stroke="#ff0a8c" stroke-width="1"/>
<rect x="561.36" y="39" width="4.2" height="4" fill="#ff0a8c" stroke="none" stroke-width="1" />
<rect x="562.56" y="40" width="1.4" height="1.8" fill="#500028" stroke="none" stroke-width="1" />
<line x1="559" y1="43.4" x2="544.5" y2="105" stroke="#cc3480" stroke-width="0.9"/>
<line x1="581.4" y1="43.4" x2="589.3" y2="43.4" stroke="#ff0a8c" stroke-width="1"/>
<rect x="583.54" y="39" width="4.2" height="4" fill="#ff0a8c" stroke="none" stroke-width="1" />
<rect x="584.75" y="40" width="1.4" height="1.8" fill="#500028" stroke="none" stroke-width="1" />
<line x1="581.4" y1="43.4" x2="566" y2="106" stroke="#cc3480" stroke-width="0.9"/>
<line x1="608.4" y1="43.4" x2="617" y2="43.4" stroke="#ff0a8c" stroke-width="1"/>
<rect x="610.93" y="39" width="4.2" height="4" fill="#ff0a8c" stroke="none" stroke-width="1" />
<rect x="612.13" y="40" width="1.4" height="1.8" fill="#500028" stroke="none" stroke-width="1" />
<line x1="608.4" y1="43.4" x2="600" y2="113" stroke="#cc3480" stroke-width="0.9"/>
<line x1="140" y1="282.2" x2="147" y2="282.2" stroke="#ff0a8c" stroke-width="1"/>
<rect x="141.65" y="277.8" width="4.2" height="4" fill="#ff0a8c" stroke="none" stroke-width="1" />
<rect x="142.85" y="278.8" width="1.4" height="1.8" fill="#500028" stroke="none" stroke-width="1" />
<line x1="140" y1="282.2" x2="114" y2="216" stroke="#cc3480" stroke-width="0.9"/>
<line x1="162.4" y1="282.2" x2="170" y2="282.2" stroke="#ff0a8c" stroke-width="1"/>
<rect x="164.38" y="277.8" width="4.2" height="4" fill="#ff0a8c" stroke="none" stroke-width="1" />
<rect x="165.58" y="278.8" width="1.4" height="1.8" fill="#500028" stroke="none" stroke-width="1" />
<line x1="162.4" y1="282.2" x2="143" y2="208.4" stroke="#cc3480" stroke-width="0.9"/>
<line x1="184.9" y1="282.2" x2="191" y2="282.2" stroke="#ff0a8c" stroke-width="1"/>
<rect x="186.06" y="277.8" width="4.2" height="4" fill="#ff0a8c" stroke="none" stroke-width="1" />
<rect x="187.25" y="278.8" width="1.4" height="1.8" fill="#500028" stroke="none" stroke-width="1" />
<line x1="184.9" y1="282.2" x2="138" y2="205" stroke="#cc3480" stroke-width="0.9"/>
<line x1="196" y1="282.2" x2="203.6" y2="282.2" stroke="#ff0a8c" stroke-width="1"/>
<rect x="197.98" y="277.8" width="4.2" height="4" fill="#ff0a8c" stroke="none" stroke-width="1" />
<rect x="199.18" y="278.8" width="1.4" height="1.8" fill="#500028" stroke="none" stroke-width="1" />
<line x1="207.3" y1="282.2" x2="214.8" y2="282.2" stroke="#ff0a8c" stroke-width="1"/>
<rect x="209.23" y="277.8" width="4.2" height="4" fill="#ff0a8c" stroke="none" stroke-width="1" />
<rect x="210.43" y="278.8" width="1.4" height="1.8" fill="#500028" stroke="none" stroke-width="1" />
<line x1="218.5" y1="282.2" x2="226" y2="282.2" stroke="#ff0a8c" stroke-width="1"/>
<rect x="220.43" y="277.8" width="4.2" height="4" fill="#ff0a8c" stroke="none" stroke-width="1" />
<rect x="221.62" y="278.8" width="1.4" height="1.8" fill="#500028" stroke="none" stroke-width="1" />
<line x1="218.5" y1="282.2" x2="152" y2="204" stroke="#cc3480" stroke-width="0.9"/>
<line x1="232.2" y1="282.2" x2="239.7" y2="282.2" stroke="#ff0a8c" stroke-width="1"/>
<rect x="234.12" y="277.8" width="4.2" height="4" fill="#ff0a8c" stroke="none" stroke-width="1" />
<rect x="235.32" y="278.8" width="1.4" height="1.8" fill="#500028" stroke="none" stroke-width="1" />
<line x1="232.2" y1="282.2" x2="163" y2="202" stroke="#cc3480" stroke-width="0.9"/>
<line x1="244.7" y1="282.2" x2="252.2" y2="282.2" stroke="#ff0a8c" stroke-width="1"/>
<rect x="246.62" y="277.8" width="4.2" height="4" fill="#ff0a8c" stroke="none" stroke-width="1" />
<rect x="247.82" y="278.8" width="1.4" height="1.8" fill="#500028" stroke="none" stroke-width="1" />
<line x1="244.7" y1="282.2" x2="170.6" y2="200" stroke="#cc3480" stroke-width="0.9"/>
<line x1="253.4" y1="282.2" x2="261.7" y2="282.2" stroke="#ff0a8c" stroke-width="1"/>
<rect x="255.76" y="277.8" width="4.2" height="4" fill="#ff0a8c" stroke="none" stroke-width="1" />
<rect x="256.96" y="278.8" width="1.4" height="1.8" fill="#500028" stroke="none" stroke-width="1" />
<line x1="253.4" y1="282.2" x2="177.5" y2="198" stroke="#cc3480" stroke-width="0.9"/>
<line x1="267.2" y1="282.2" x2="274.6" y2="282.2" stroke="#ff0a8c" stroke-width="1"/>
<rect x="269.07" y="277.8" width="4.2" height="4" fill="#ff0a8c" stroke="none" stroke-width="1" />
<rect x="270.27" y="278.8" width="1.4" height="1.8" fill="#500028" stroke="none" stroke-width="1" />
<line x1="267.2" y1="282.2" x2="181" y2="195" stroke="#cc3480" stroke-width="0.9"/>
<line x1="277" y1="282.2" x2="283.4" y2="282.2" stroke="#ff0a8c" stroke-width="1"/>
<rect x="278.32" y="277.8" width="4.2" height="4" fill="#ff0a8c" stroke="none" stroke-width="1" />
<rect x="279.52" y="278.8" width="1.4" height="1.8" fill="#500028" stroke="none" stroke-width="1" />
<line x1="277" y1="282.2" x2="202.7" y2="176.8" stroke="#cc3480" stroke-width="0.9"/>
<line x1="289.6" y1="282.2" x2="295.8" y2="282.2" stroke="#ff0a8c" stroke-width="1"/>
<rect x="290.81" y="277.8" width="4.2" height="4" fill="#ff0a8c" stroke="none" stroke-width="1" />
<rect x="292.01" y="278.8" width="1.4" height="1.8" fill="#500028" stroke="none" stroke-width="1" />
<line x1="289.6" y1="282.2" x2="254.3" y2="165" stroke="#cc3480" stroke-width="0.9"/>
<line x1="370.4" y1="282.2" x2="377.4" y2="282.2" stroke="#ff0a8c" stroke-width="1"/>
<rect x="372.05" y="277.8" width="4.2" height="4" fill="#ff0a8c" stroke="none" stroke-width="1" />
<rect x="373.25" y="278.8" width="1.4" height="1.8" fill="#500028" stroke="none" stroke-width="1" />
<line x1="370.4" y1="282.2" x2="345" y2="168" stroke="#cc3480" stroke-width="0.9"/>
<line x1="457.2" y1="282.2" x2="464.7" y2="282.2" stroke="#ff0a8c" stroke-width="1"/>
<rect x="459.12" y="277.8" width="4.2" height="4" fill="#ff0a8c" stroke="none" stroke-width="1" />
<rect x="460.32" y="278.8" width="1.4" height="1.8" fill="#500028" stroke="none" stroke-width="1" />
<line x1="457.2" y1="282.2" x2="445" y2="170" stroke="#cc3480" stroke-width="0.9"/>
<line x1="471.6" y1="282.2" x2="478.4" y2="282.2" stroke="#ff0a8c" stroke-width="1"/>
<rect x="473.14" y="277.8" width="4.2" height="4" fill="#ff0a8c" stroke="none" stroke-width="1" />
<rect x="474.34" y="278.8" width="1.4" height="1.8" fill="#500028" stroke="none" stroke-width="1" />
<line x1="471.6" y1="282.2" x2="457.3" y2="166.3" stroke="#cc3480" stroke-width="0.9"/>
<line x1="484.1" y1="282.2" x2="490.8" y2="282.2" stroke="#ff0a8c" stroke-width="1"/>
<rect x="485.59" y="277.8" width="4.2" height="4" fill="#ff0a8c" stroke="none" stroke-width="1" />
<rect x="486.79" y="278.8" width="1.4" height="1.8" fill="#500028" stroke="none" stroke-width="1" />
<line x1="484.1" y1="282.2" x2="469.4" y2="168.3" stroke="#cc3480" stroke-width="0.9"/>
<polyline points="191,282.4 194.2,284.6 196.4,282.4" fill="none" stroke="#cc3480" stroke-width="0.8"/>
<polyline points="203.2,282.4 205.8,284.6 208,282.4" fill="none" stroke="#cc3480" stroke-width="0.8"/>
<path d="M315.4,79.2 V89 M310,81.8 H315.4" fill="none" stroke="#4ed84e" stroke-width="1.1"/>
<rect x="314.6" y="82.3" width="2.3" height="3.6" fill="#4ed84e" stroke="none" stroke-width="1" />
<path d="M333.1,97.7 V92.2 H342.9" fill="none" stroke="#4ed84e" stroke-width="1"/>
<polygon points="329.5,92 331.2,95.7 327.8,95.7" fill="#4ed84e" stroke="none" stroke-width="1"/>
<path d="M333,200 V205 H342" fill="none" stroke="#4ed84e" stroke-width="1"/>
<rect x="336" y="204.5" width="3" height="2.5" fill="#4ed84e" stroke="none" stroke-width="1" />
<rect x="328.2" y="202" width="1.2" height="3.5" fill="#4ed84e" stroke="none" stroke-width="1" />
<rect x="553.5" y="96" width="5.5" height="3.6" fill="#4ed84e" stroke="none" stroke-width="1" />
<rect x="555" y="94.5" width="2.5" height="1.5" fill="#4ed84e" stroke="none" stroke-width="1" />
<path d="M90.1,318.4 H64.5 Q60.9,318.4 60.9,322 V343 Q60.9,346.5 64.5,346.5 H90.1" fill="none" stroke="#ffffff" stroke-width="1.1"/>
<path d="M60.9,323.3 H58.3 Q57,323.3 57,324.8 V340.6 Q57,342.1 58.3,342.1 H60.9" fill="none" stroke="#ffffff" stroke-width="1"/>
<line x1="66.2" y1="318.4" x2="66.2" y2="346.5" stroke="#ffffff" stroke-width="1.1"/>
<line x1="86" y1="319.5" x2="86" y2="345.5" stroke="#ffffff" stroke-width="1"/>
<rect x="90.1" y="306.1" width="52.8" height="52.8" fill="none" stroke="#ffffff" stroke-width="1.1" />
<path d="M142.9,314.9 H146 V319.3 H153.5 V344.8 H146 V349.5 H142.9" fill="none" stroke="#ffffff" stroke-width="1.1"/>
<circle cx="99.6" cy="332.8" r="2.5" fill="none" stroke="#ffffff" stroke-width="1"/>
<circle cx="129.2" cy="332.8" r="2.5" fill="none" stroke="#ffffff" stroke-width="1"/>
<line x1="99.6" y1="320" x2="99.6" y2="345.7" stroke="#b81818" stroke-width="1.1"/>
<line x1="129.2" y1="318.4" x2="129.2" y2="346.5" stroke="#b81818" stroke-width="1.1"/>
<line x1="123.9" y1="316.6" x2="160.9" y2="316.6" stroke="#b81818" stroke-width="1.1"/>
<line x1="123.9" y1="348.7" x2="160.9" y2="348.7" stroke="#b81818" stroke-width="1.1"/>
<line x1="151.2" y1="300.8" x2="151.2" y2="368" stroke="#b81818" stroke-width="1.1"/>
<line x1="50" y1="332.8" x2="277" y2="332.8" stroke="#b81818" stroke-width="1.1" stroke-dasharray="12 2 2 2"/>
<polyline points="154,324.4 155.73,327.3 157.47,324.4 159.2,327.3 160.93,324.4 162.67,327.3 164.4,324.4 166.13,327.3 167.87,324.4 169.6,327.3 171.33,324.4 173.07,327.3 174.8,324.4" fill="none" stroke="#ffffff" stroke-width="0.9"/>
<polyline points="154,341.6 155.73,338.7 157.47,341.6 159.2,338.7 160.93,341.6 162.67,338.7 164.4,341.6 166.13,338.7 167.87,341.6 169.6,338.7 171.33,341.6 173.07,338.7 174.8,341.6" fill="none" stroke="#ffffff" stroke-width="0.9"/>
<line x1="153.8" y1="329.2" x2="174.8" y2="329.2" stroke="#4ed84e" stroke-width="1.1"/>
<line x1="153.8" y1="336.8" x2="174.8" y2="336.8" stroke="#4ed84e" stroke-width="1.1"/>
<line x1="158.6" y1="327.8" x2="158.6" y2="338.2" stroke="#ffffff" stroke-width="1"/>
<line x1="174.4" y1="327.8" x2="174.4" y2="338.2" stroke="#ffffff" stroke-width="1"/>
<path d="M169.5,329.5 Q172,333 169.5,336.5" fill="none" stroke="#e8e800" stroke-width="1.1"/>
<rect x="183.4" y="306.3" width="22.3" height="53.4" fill="none" stroke="#ffffff" stroke-width="1.1" />
<path d="M183.4,318.3 H175.4 V347.7 H183.4 M205.7,318.3 H208.7 V347.7 H205.7" fill="none" stroke="#ffffff" stroke-width="1.1"/>
<line x1="189.1" y1="308" x2="189.1" y2="358" stroke="#b81818" stroke-width="1" stroke-dasharray="6 1.5 1.5 1.5"/>
<line x1="200" y1="308" x2="200" y2="358" stroke="#b81818" stroke-width="1" stroke-dasharray="6 1.5 1.5 1.5"/>
<line x1="178.6" y1="316.8" x2="207.2" y2="316.8" stroke="#b81818" stroke-width="1"/>
<line x1="178.6" y1="347.3" x2="207.2" y2="347.3" stroke="#b81818" stroke-width="1"/>
<line x1="172" y1="321.5" x2="189" y2="321.5" stroke="#b81818" stroke-width="1"/>
<line x1="172" y1="343.8" x2="189" y2="343.8" stroke="#b81818" stroke-width="1"/>
<circle cx="189.1" cy="317.4" r="1.3" fill="none" stroke="#ffffff" stroke-width="0.9"/>
<circle cx="200" cy="317.4" r="2.2" fill="none" stroke="#ffffff" stroke-width="1"/>
<circle cx="189.1" cy="347.7" r="1.3" fill="none" stroke="#ffffff" stroke-width="0.9"/>
<circle cx="200" cy="347.7" r="2.2" fill="none" stroke="#ffffff" stroke-width="1"/>
<rect x="209.1" y="323.5" width="17.1" height="4.1" fill="#1212a0" stroke="none" stroke-width="1" />
<rect x="209.1" y="338.5" width="17.1" height="3.5" fill="#1212a0" stroke="none" stroke-width="1" />
<polyline points="209.5,323.8 211.15,327 212.8,323.8 214.45,327 216.1,323.8 217.75,327 219.4,323.8 221.05,327 222.7,323.8 224.35,327 226,323.8" fill="none" stroke="#8080ff" stroke-width="0.7"/>
<polyline points="209.5,341.8 211.15,338.7 212.8,341.8 214.45,338.7 216.1,341.8 217.75,338.7 219.4,341.8 221.05,338.7 222.7,341.8 224.35,338.7 226,341.8" fill="none" stroke="#8080ff" stroke-width="0.7"/>
<line x1="209.1" y1="329.2" x2="216" y2="329.2" stroke="#4ed84e" stroke-width="1.1"/>
<line x1="209.1" y1="336.8" x2="216" y2="336.8" stroke="#4ed84e" stroke-width="1.1"/>
<rect x="215.8" y="328.2" width="12.4" height="9.5" fill="none" stroke="#ffffff" stroke-width="1" />
<path d="M221,329.5 Q223,333 221,336.5" fill="none" stroke="#e8e800" stroke-width="1"/>
<rect x="227.2" y="316.8" width="2.8" height="30.5" fill="none" stroke="#ffffff" stroke-width="1" />
<rect x="230" y="312" width="28.3" height="39.5" fill="none" stroke="#ffffff" stroke-width="1.1" />
<line x1="230" y1="319.6" x2="258.3" y2="319.6" stroke="#ffffff" stroke-width="1"/>
<line x1="230" y1="344.4" x2="258.3" y2="344.4" stroke="#ffffff" stroke-width="1"/>
<path d="M258.3,320 H261.5 V325 H258.3 M258.3,339.5 H261.5 V344 H258.3 M258.3,330 H261 V335.5 H258.3" fill="none" stroke="#ffffff" stroke-width="1"/>
<path d="M170.5,303.5 V298.5 H179.5 V303.5 M174,303.5 V300.8 H176.5" fill="none" stroke="#4ed84e" stroke-width="1.2"/>
<rect x="172.5" y="294.5" width="5" height="4" fill="#4ed84e" stroke="none" stroke-width="1" />
<rect x="382.2" y="316.6" width="4.12" height="6" fill="#ff0a8c" stroke="none" stroke-width="1" />
<rect x="384.21" y="316.95" width="1.03" height="1.2" fill="#000" stroke="none" stroke-width="1" />
<rect x="383.03" y="316.9" width="1.86" height="0.9" fill="#000" stroke="none" stroke-width="1" />
<rect x="382.29" y="318.81" width="1.86" height="0.9" fill="#000" stroke="none" stroke-width="1" />
<rect x="382.48" y="318.77" width="1.03" height="0.9" fill="#000" stroke="none" stroke-width="1" />
<rect x="386.82" y="316.6" width="4.12" height="6" fill="#ff0a8c" stroke="none" stroke-width="1" />
<rect x="388.77" y="320.58" width="1.03" height="1.8" fill="#000" stroke="none" stroke-width="1" />
<rect x="387.72" y="320.7" width="1.86" height="1.8" fill="#000" stroke="none" stroke-width="1" />
<rect x="389.48" y="317.82" width="1.03" height="1.8" fill="#000" stroke="none" stroke-width="1" />
<rect x="391.45" y="316.6" width="4.12" height="6" fill="#ff0a8c" stroke="none" stroke-width="1" />
<rect x="392.75" y="319.46" width="1.86" height="0.9" fill="#000" stroke="none" stroke-width="1" />
<rect x="391.68" y="319.51" width="1.86" height="0.9" fill="#000" stroke="none" stroke-width="1" />
<rect x="391.75" y="320.02" width="1.03" height="1.2" fill="#000" stroke="none" stroke-width="1" />
<rect x="392.85" y="319.13" width="1.86" height="0.9" fill="#000" stroke="none" stroke-width="1" />
<rect x="396.07" y="316.6" width="4.12" height="6" fill="#ff0a8c" stroke="none" stroke-width="1" />
<rect x="397.65" y="318.78" width="1.44" height="1.2" fill="#000" stroke="none" stroke-width="1" />
<rect x="398.2" y="320.16" width="1.44" height="0.9" fill="#000" stroke="none" stroke-width="1" />
<rect x="397.85" y="319.28" width="1.03" height="0.9" fill="#000" stroke="none" stroke-width="1" />
<rect x="397.28" y="319.16" width="1.44" height="1.8" fill="#000" stroke="none" stroke-width="1" />
<rect x="397.66" y="317.44" width="1.03" height="0.9" fill="#000" stroke="none" stroke-width="1" />
<rect x="371.4" y="326.7" width="1.2" height="5.6" fill="#ff0a8c" stroke="none" stroke-width="1" />
<rect x="373.4" y="331.2" width="1" height="1.1" fill="#ff0a8c" stroke="none" stroke-width="1" />
<rect x="375.86" y="326.4" width="4.56" height="6.2" fill="#ff0a8c" stroke="none" stroke-width="1" />
<rect x="377.3" y="331.17" width="1.14" height="1.24" fill="#000" stroke="none" stroke-width="1" />
<rect x="377.82" y="330.2" width="1.14" height="1.86" fill="#000" stroke="none" stroke-width="1" />
<rect x="377.92" y="329.35" width="1.6" height="1.24" fill="#000" stroke="none" stroke-width="1" />
<rect x="376.03" y="326.86" width="2.05" height="1.24" fill="#000" stroke="none" stroke-width="1" />
<rect x="380.92" y="326.4" width="4.56" height="6.2" fill="#ff0a8c" stroke="none" stroke-width="1" />
<rect x="382.88" y="326.66" width="1.6" height="1.86" fill="#000" stroke="none" stroke-width="1" />
<rect x="382.54" y="331.33" width="2.05" height="1.24" fill="#000" stroke="none" stroke-width="1" />
<rect x="383.04" y="330.8" width="1.6" height="1.24" fill="#000" stroke="none" stroke-width="1" />
<rect x="383.7" y="328.27" width="1.6" height="0.93" fill="#000" stroke="none" stroke-width="1" />
<rect x="385.98" y="326.4" width="4.56" height="6.2" fill="#ff0a8c" stroke="none" stroke-width="1" />
<rect x="386.62" y="327.91" width="1.6" height="0.93" fill="#000" stroke="none" stroke-width="1" />
<rect x="386.97" y="331.23" width="2.05" height="0.93" fill="#000" stroke="none" stroke-width="1" />
<rect x="386.47" y="328.52" width="1.6" height="0.93" fill="#000" stroke="none" stroke-width="1" />
<rect x="391.03" y="326.4" width="4.56" height="6.2" fill="#ff0a8c" stroke="none" stroke-width="1" />
<rect x="393.99" y="327.78" width="1.14" height="1.24" fill="#000" stroke="none" stroke-width="1" />
<rect x="393.06" y="328.29" width="1.6" height="1.24" fill="#000" stroke="none" stroke-width="1" />
<rect x="391.32" y="327.2" width="1.14" height="0.93" fill="#000" stroke="none" stroke-width="1" />
<rect x="391.06" y="330.78" width="2.05" height="0.93" fill="#000" stroke="none" stroke-width="1" />
<rect x="396.09" y="326.4" width="4.56" height="6.2" fill="#ff0a8c" stroke="none" stroke-width="1" />
<rect x="396.1" y="328.48" width="1.6" height="1.24" fill="#000" stroke="none" stroke-width="1" />
<rect x="397.77" y="330.54" width="1.6" height="1.86" fill="#000" stroke="none" stroke-width="1" />
<rect x="398.47" y="329.24" width="2.05" height="1.86" fill="#000" stroke="none" stroke-width="1" />
<rect x="397.24" y="330.99" width="2.05" height="0.93" fill="#000" stroke="none" stroke-width="1" />
<rect x="401.15" y="326.4" width="4.56" height="6.2" fill="#ff0a8c" stroke="none" stroke-width="1" />
<rect x="402.32" y="328.79" width="1.6" height="1.24" fill="#000" stroke="none" stroke-width="1" />
<rect x="401.71" y="331.59" width="1.6" height="0.93" fill="#000" stroke="none" stroke-width="1" />
<rect x="401.48" y="329.57" width="1.6" height="0.93" fill="#000" stroke="none" stroke-width="1" />
<rect x="403.09" y="329.23" width="1.14" height="0.93" fill="#000" stroke="none" stroke-width="1" />
<rect x="401.23" y="330.19" width="1.6" height="1.86" fill="#000" stroke="none" stroke-width="1" />
<rect x="406.21" y="326.4" width="4.56" height="6.2" fill="#ff0a8c" stroke="none" stroke-width="1" />
<rect x="407.07" y="327.91" width="1.14" height="1.86" fill="#000" stroke="none" stroke-width="1" />
<rect x="406.57" y="330.61" width="1.6" height="1.24" fill="#000" stroke="none" stroke-width="1" />
<rect x="407.64" y="326.83" width="1.6" height="1.24" fill="#000" stroke="none" stroke-width="1" />
<rect x="407.38" y="327.55" width="1.14" height="1.86" fill="#000" stroke="none" stroke-width="1" />
<rect x="407.5" y="327.48" width="2.05" height="0.93" fill="#000" stroke="none" stroke-width="1" />
<rect x="411.27" y="326.4" width="4.56" height="6.2" fill="#ff0a8c" stroke="none" stroke-width="1" />
<rect x="413.12" y="326.52" width="1.14" height="1.86" fill="#000" stroke="none" stroke-width="1" />
<rect x="413.72" y="330.68" width="2.05" height="1.24" fill="#000" stroke="none" stroke-width="1" />
<rect x="412.57" y="330.9" width="2.05" height="1.24" fill="#000" stroke="none" stroke-width="1" />
<rect x="412.84" y="330.51" width="1.6" height="0.93" fill="#000" stroke="none" stroke-width="1" />
<rect x="416.32" y="326.4" width="4.56" height="6.2" fill="#ff0a8c" stroke="none" stroke-width="1" />
<rect x="417.86" y="330.55" width="2.05" height="0.93" fill="#000" stroke="none" stroke-width="1" />
<rect x="419.12" y="330.3" width="1.14" height="0.93" fill="#000" stroke="none" stroke-width="1" />
<rect x="418.09" y="328.27" width="1.14" height="0.93" fill="#000" stroke="none" stroke-width="1" />
<rect x="419.03" y="328.89" width="1.14" height="0.93" fill="#000" stroke="none" stroke-width="1" />
<rect x="421.38" y="326.4" width="4.56" height="6.2" fill="#ff0a8c" stroke="none" stroke-width="1" />
<rect x="423.78" y="328.34" width="2.05" height="1.86" fill="#000" stroke="none" stroke-width="1" />
<rect x="423.78" y="328.21" width="2.05" height="1.24" fill="#000" stroke="none" stroke-width="1" />
<rect x="422.16" y="327.44" width="1.14" height="0.93" fill="#000" stroke="none" stroke-width="1" />
<rect x="423.52" y="330.87" width="1.14" height="1.24" fill="#000" stroke="none" stroke-width="1" />
<rect x="426.44" y="326.4" width="4.56" height="6.2" fill="#ff0a8c" stroke="none" stroke-width="1" />
<rect x="427.46" y="329.19" width="1.6" height="1.86" fill="#000" stroke="none" stroke-width="1" />
<rect x="428.72" y="330.52" width="2.05" height="0.93" fill="#000" stroke="none" stroke-width="1" />
<rect x="429.48" y="328.55" width="1.14" height="1.24" fill="#000" stroke="none" stroke-width="1" />
<rect x="371.4" y="336.3" width="1.2" height="5.6" fill="#ff0a8c" stroke="none" stroke-width="1" />
<rect x="373.4" y="340.8" width="1" height="1.1" fill="#ff0a8c" stroke="none" stroke-width="1" />
<rect x="375.84" y="336" width="4.54" height="6.2" fill="#ff0a8c" stroke="none" stroke-width="1" />
<rect x="377.19" y="337.74" width="1.14" height="1.86" fill="#000" stroke="none" stroke-width="1" />
<rect x="376.38" y="340.31" width="1.14" height="1.86" fill="#000" stroke="none" stroke-width="1" />
<rect x="377.85" y="338.45" width="1.14" height="0.93" fill="#000" stroke="none" stroke-width="1" />
<rect x="377.37" y="339.14" width="2.04" height="0.93" fill="#000" stroke="none" stroke-width="1" />
<rect x="380.88" y="336" width="4.54" height="6.2" fill="#ff0a8c" stroke="none" stroke-width="1" />
<rect x="381.27" y="338.72" width="2.04" height="1.24" fill="#000" stroke="none" stroke-width="1" />
<rect x="383.61" y="339.83" width="1.14" height="0.93" fill="#000" stroke="none" stroke-width="1" />
<rect x="383.44" y="336.6" width="1.14" height="1.86" fill="#000" stroke="none" stroke-width="1" />
<rect x="380.98" y="337.12" width="1.14" height="0.93" fill="#000" stroke="none" stroke-width="1" />
<rect x="382.79" y="337.72" width="2.04" height="0.93" fill="#000" stroke="none" stroke-width="1" />
<rect x="385.93" y="336" width="4.54" height="6.2" fill="#ff0a8c" stroke="none" stroke-width="1" />
<rect x="389.02" y="337.86" width="1.14" height="0.93" fill="#000" stroke="none" stroke-width="1" />
<rect x="387.65" y="339.92" width="1.59" height="1.86" fill="#000" stroke="none" stroke-width="1" />
<rect x="386.31" y="336.66" width="1.59" height="1.86" fill="#000" stroke="none" stroke-width="1" />
<rect x="388.11" y="340.09" width="2.04" height="0.93" fill="#000" stroke="none" stroke-width="1" />
<rect x="387.86" y="336.79" width="2.04" height="0.93" fill="#000" stroke="none" stroke-width="1" />
<rect x="390.97" y="336" width="4.54" height="6.2" fill="#ff0a8c" stroke="none" stroke-width="1" />
<rect x="393.11" y="338.42" width="1.59" height="1.86" fill="#000" stroke="none" stroke-width="1" />
<rect x="392.5" y="338.41" width="1.59" height="1.86" fill="#000" stroke="none" stroke-width="1" />
<rect x="391.16" y="336.83" width="1.14" height="1.86" fill="#000" stroke="none" stroke-width="1" />
<rect x="392.7" y="338.96" width="1.14" height="0.93" fill="#000" stroke="none" stroke-width="1" />
<rect x="396.01" y="336" width="4.54" height="6.2" fill="#ff0a8c" stroke="none" stroke-width="1" />
<rect x="397.82" y="338.51" width="1.59" height="1.24" fill="#000" stroke="none" stroke-width="1" />
<rect x="397.74" y="338.38" width="2.04" height="0.93" fill="#000" stroke="none" stroke-width="1" />
<rect x="397.28" y="337.23" width="2.04" height="1.24" fill="#000" stroke="none" stroke-width="1" />
<rect x="401.05" y="336" width="4.54" height="6.2" fill="#ff0a8c" stroke="none" stroke-width="1" />
<rect x="403.15" y="336.72" width="2.04" height="0.93" fill="#000" stroke="none" stroke-width="1" />
<rect x="402.56" y="336.36" width="1.14" height="1.24" fill="#000" stroke="none" stroke-width="1" />
<rect x="401.3" y="339.32" width="1.14" height="1.24" fill="#000" stroke="none" stroke-width="1" />
<rect x="404.25" y="339.39" width="1.14" height="0.93" fill="#000" stroke="none" stroke-width="1" />
<rect x="406.09" y="336" width="4.54" height="6.2" fill="#ff0a8c" stroke="none" stroke-width="1" />
<rect x="409.1" y="340.8" width="1.14" height="1.24" fill="#000" stroke="none" stroke-width="1" />
<rect x="409.34" y="337.73" width="1.14" height="1.86" fill="#000" stroke="none" stroke-width="1" />
<rect x="409.01" y="340.39" width="1.59" height="0.93" fill="#000" stroke="none" stroke-width="1" />
<rect x="407.56" y="338.24" width="1.14" height="1.86" fill="#000" stroke="none" stroke-width="1" />
<rect x="411.13" y="336" width="4.54" height="6.2" fill="#ff0a8c" stroke="none" stroke-width="1" />
<rect x="412.19" y="336.49" width="1.59" height="0.93" fill="#000" stroke="none" stroke-width="1" />
<rect x="412.13" y="338.42" width="1.59" height="0.93" fill="#000" stroke="none" stroke-width="1" />
<rect x="412.09" y="338.73" width="2.04" height="0.93" fill="#000" stroke="none" stroke-width="1" />
<rect x="413.97" y="336.49" width="1.59" height="1.86" fill="#000" stroke="none" stroke-width="1" />
<rect x="416.18" y="336" width="4.54" height="6.2" fill="#ff0a8c" stroke="none" stroke-width="1" />
<rect x="417.08" y="336.21" width="1.14" height="0.93" fill="#000" stroke="none" stroke-width="1" />
<rect x="418.75" y="340.07" width="1.14" height="1.24" fill="#000" stroke="none" stroke-width="1" />
<rect x="417.19" y="338.66" width="2.04" height="1.24" fill="#000" stroke="none" stroke-width="1" />
<rect x="417.41" y="337.42" width="2.04" height="1.86" fill="#000" stroke="none" stroke-width="1" />
<rect x="421.22" y="336" width="4.54" height="6.2" fill="#ff0a8c" stroke="none" stroke-width="1" />
<rect x="421.84" y="339.89" width="1.14" height="1.86" fill="#000" stroke="none" stroke-width="1" />
<rect x="423.09" y="340.22" width="1.59" height="0.93" fill="#000" stroke="none" stroke-width="1" />
<rect x="424.13" y="336.29" width="1.14" height="1.86" fill="#000" stroke="none" stroke-width="1" />
<rect x="421.26" y="340.93" width="1.14" height="1.24" fill="#000" stroke="none" stroke-width="1" />
<rect x="426.26" y="336" width="4.54" height="6.2" fill="#ff0a8c" stroke="none" stroke-width="1" />
<rect x="426.64" y="338.29" width="1.59" height="1.86" fill="#000" stroke="none" stroke-width="1" />
<rect x="429.56" y="337.38" width="1.14" height="0.93" fill="#000" stroke="none" stroke-width="1" />
<rect x="429.43" y="339.31" width="1.14" height="0.93" fill="#000" stroke="none" stroke-width="1" />
<rect x="426.98" y="338.64" width="2.04" height="0.93" fill="#000" stroke="none" stroke-width="1" />
<rect x="427.44" y="336.09" width="1.14" height="1.24" fill="#000" stroke="none" stroke-width="1" />
<rect x="371.4" y="345.7" width="1.2" height="6" fill="#ff0a8c" stroke="none" stroke-width="1" />
<rect x="373.4" y="350.6" width="1" height="1.1" fill="#ff0a8c" stroke="none" stroke-width="1" />
<rect x="376.13" y="345.4" width="4.83" height="6.6" fill="#ff0a8c" stroke="none" stroke-width="1" />
<rect x="376.2" y="348.24" width="1.21" height="0.99" fill="#000" stroke="none" stroke-width="1" />
<rect x="377.85" y="349.72" width="1.21" height="1.98" fill="#000" stroke="none" stroke-width="1" />
<rect x="379.1" y="347.4" width="1.21" height="1.98" fill="#000" stroke="none" stroke-width="1" />
<rect x="378.75" y="347.22" width="1.69" height="1.98" fill="#000" stroke="none" stroke-width="1" />
<rect x="381.46" y="345.4" width="4.83" height="6.6" fill="#ff0a8c" stroke="none" stroke-width="1" />
<rect x="384.07" y="347.32" width="2.17" height="0.99" fill="#000" stroke="none" stroke-width="1" />
<rect x="383.15" y="347.27" width="2.17" height="1.98" fill="#000" stroke="none" stroke-width="1" />
<rect x="384.09" y="345.48" width="1.69" height="0.99" fill="#000" stroke="none" stroke-width="1" />
<rect x="383.8" y="347.39" width="2.17" height="1.98" fill="#000" stroke="none" stroke-width="1" />
<rect x="386.79" y="345.4" width="4.83" height="6.6" fill="#ff0a8c" stroke="none" stroke-width="1" />
<rect x="389.84" y="349.42" width="1.21" height="1.98" fill="#000" stroke="none" stroke-width="1" />
<rect x="388.38" y="349.06" width="2.17" height="1.32" fill="#000" stroke="none" stroke-width="1" />
<rect x="387.46" y="346.82" width="1.21" height="1.32" fill="#000" stroke="none" stroke-width="1" />
<rect x="392.12" y="345.4" width="4.83" height="6.6" fill="#ff0a8c" stroke="none" stroke-width="1" />
<rect x="395.14" y="350.54" width="1.69" height="1.32" fill="#000" stroke="none" stroke-width="1" />
<rect x="392.77" y="350.5" width="2.17" height="1.32" fill="#000" stroke="none" stroke-width="1" />
<rect x="393.24" y="345.41" width="1.69" height="0.99" fill="#000" stroke="none" stroke-width="1" />
<rect x="397.45" y="345.4" width="4.83" height="6.6" fill="#ff0a8c" stroke="none" stroke-width="1" />
<rect x="398.46" y="348.86" width="1.21" height="1.32" fill="#000" stroke="none" stroke-width="1" />
<rect x="400.26" y="345.82" width="1.21" height="1.98" fill="#000" stroke="none" stroke-width="1" />
<rect x="398.89" y="345.63" width="1.21" height="0.99" fill="#000" stroke="none" stroke-width="1" />
<rect x="398.55" y="346.63" width="1.21" height="1.32" fill="#000" stroke="none" stroke-width="1" />
<rect x="399.71" y="346.12" width="2.17" height="1.98" fill="#000" stroke="none" stroke-width="1" />
<rect x="402.78" y="345.4" width="4.83" height="6.6" fill="#ff0a8c" stroke="none" stroke-width="1" />
<rect x="405.87" y="346.09" width="1.69" height="1.98" fill="#000" stroke="none" stroke-width="1" />
<rect x="404.48" y="345.6" width="2.17" height="1.98" fill="#000" stroke="none" stroke-width="1" />
<rect x="404.44" y="348.79" width="2.17" height="1.98" fill="#000" stroke="none" stroke-width="1" />
<rect x="405.19" y="349.62" width="2.17" height="0.99" fill="#000" stroke="none" stroke-width="1" />
<rect x="404.97" y="348.68" width="2.17" height="0.99" fill="#000" stroke="none" stroke-width="1" />
<rect x="408.11" y="345.4" width="4.83" height="6.6" fill="#ff0a8c" stroke="none" stroke-width="1" />
<rect x="408.26" y="348.97" width="1.21" height="0.99" fill="#000" stroke="none" stroke-width="1" />
<rect x="411.13" y="348.35" width="1.21" height="1.32" fill="#000" stroke="none" stroke-width="1" />
<rect x="409.77" y="349.22" width="2.17" height="0.99" fill="#000" stroke="none" stroke-width="1" />
<rect x="408.12" y="349.61" width="1.69" height="1.32" fill="#000" stroke="none" stroke-width="1" />
<rect x="413.44" y="345.4" width="4.83" height="6.6" fill="#ff0a8c" stroke="none" stroke-width="1" />
<rect x="413.61" y="348.8" width="2.17" height="1.98" fill="#000" stroke="none" stroke-width="1" />
<rect x="416.09" y="346.72" width="1.69" height="0.99" fill="#000" stroke="none" stroke-width="1" />
<rect x="416.11" y="350.87" width="1.21" height="0.99" fill="#000" stroke="none" stroke-width="1" />
<rect x="418.76" y="345.4" width="4.83" height="6.6" fill="#ff0a8c" stroke="none" stroke-width="1" />
<rect x="420.27" y="349.24" width="1.69" height="0.99" fill="#000" stroke="none" stroke-width="1" />
<rect x="421.06" y="346.32" width="1.21" height="1.98" fill="#000" stroke="none" stroke-width="1" />
<rect x="419.65" y="349.06" width="2.17" height="0.99" fill="#000" stroke="none" stroke-width="1" />
<rect x="420.41" y="346.1" width="2.17" height="1.32" fill="#000" stroke="none" stroke-width="1" />
<rect x="420.29" y="350.86" width="1.69" height="0.99" fill="#000" stroke="none" stroke-width="1" />
<rect x="424.09" y="345.4" width="4.83" height="6.6" fill="#ff0a8c" stroke="none" stroke-width="1" />
<rect x="425.89" y="347.03" width="2.17" height="0.99" fill="#000" stroke="none" stroke-width="1" />
<rect x="425.33" y="347.86" width="2.17" height="1.32" fill="#000" stroke="none" stroke-width="1" />
<rect x="424.82" y="349.92" width="1.21" height="1.98" fill="#000" stroke="none" stroke-width="1" />
<rect x="429.42" y="345.4" width="4.83" height="6.6" fill="#ff0a8c" stroke="none" stroke-width="1" />
<rect x="431.09" y="349.73" width="1.21" height="1.32" fill="#000" stroke="none" stroke-width="1" />
<rect x="430.64" y="350.24" width="1.69" height="1.32" fill="#000" stroke="none" stroke-width="1" />
<rect x="431.53" y="346.2" width="1.21" height="0.99" fill="#000" stroke="none" stroke-width="1" />
<rect x="431.95" y="346.1" width="2.17" height="1.32" fill="#000" stroke="none" stroke-width="1" />
<rect x="430.17" y="345.92" width="2.17" height="1.98" fill="#000" stroke="none" stroke-width="1" />
<rect x="434.75" y="345.4" width="4.83" height="6.6" fill="#ff0a8c" stroke="none" stroke-width="1" />
<rect x="438" y="347.97" width="1.21" height="1.32" fill="#000" stroke="none" stroke-width="1" />
<rect x="434.77" y="348.16" width="1.21" height="0.99" fill="#000" stroke="none" stroke-width="1" />
<rect x="435.7" y="346.14" width="1.69" height="1.32" fill="#000" stroke="none" stroke-width="1" />
<rect x="435.75" y="349.84" width="1.69" height="1.32" fill="#000" stroke="none" stroke-width="1" />
<rect x="440.08" y="345.4" width="4.83" height="6.6" fill="#ff0a8c" stroke="none" stroke-width="1" />
<rect x="442.72" y="346.03" width="1.69" height="1.32" fill="#000" stroke="none" stroke-width="1" />
<rect x="440.12" y="348.82" width="1.21" height="1.98" fill="#000" stroke="none" stroke-width="1" />
<rect x="440.29" y="347.46" width="1.69" height="1.32" fill="#000" stroke="none" stroke-width="1" />
<rect x="445.41" y="345.4" width="4.83" height="6.6" fill="#ff0a8c" stroke="none" stroke-width="1" />
<rect x="447.78" y="349.91" width="1.69" height="1.32" fill="#000" stroke="none" stroke-width="1" />
<rect x="445.57" y="349.11" width="1.69" height="0.99" fill="#000" stroke="none" stroke-width="1" />
<rect x="446.07" y="346.89" width="2.17" height="0.99" fill="#000" stroke="none" stroke-width="1" />
<rect x="450.74" y="345.4" width="4.83" height="6.6" fill="#ff0a8c" stroke="none" stroke-width="1" />
<rect x="453.59" y="347.66" width="1.21" height="1.32" fill="#000" stroke="none" stroke-width="1" />
<rect x="452.19" y="349.45" width="1.21" height="1.98" fill="#000" stroke="none" stroke-width="1" />
<rect x="451.28" y="345.77" width="2.17" height="1.98" fill="#000" stroke="none" stroke-width="1" />
<rect x="451.94" y="349.37" width="2.17" height="1.32" fill="#000" stroke="none" stroke-width="1" />
<rect x="456.07" y="345.4" width="4.83" height="6.6" fill="#ff0a8c" stroke="none" stroke-width="1" />
<rect x="458.93" y="348.49" width="1.69" height="0.99" fill="#000" stroke="none" stroke-width="1" />
<rect x="457.57" y="346.89" width="1.21" height="1.32" fill="#000" stroke="none" stroke-width="1" />
<rect x="458.39" y="348.42" width="1.69" height="1.98" fill="#000" stroke="none" stroke-width="1" />
<rect x="456.82" y="347.63" width="1.69" height="1.98" fill="#000" stroke="none" stroke-width="1" />
<line x1="509.5" y1="241.4" x2="644.5" y2="241.4" stroke="#4ed84e" stroke-width="1"/>
<line x1="509.5" y1="246.59" x2="644.5" y2="246.59" stroke="#4ed84e" stroke-width="1"/>
<line x1="509.5" y1="251.78" x2="644.5" y2="251.78" stroke="#4ed84e" stroke-width="1"/>
<line x1="509.5" y1="256.97" x2="644.5" y2="256.97" stroke="#4ed84e" stroke-width="1"/>
<line x1="509.5" y1="262.16" x2="644.5" y2="262.16" stroke="#4ed84e" stroke-width="1"/>
<line x1="509.5" y1="267.35" x2="644.5" y2="267.35" stroke="#4ed84e" stroke-width="1"/>
<line x1="509.5" y1="272.54" x2="644.5" y2="272.54" stroke="#4ed84e" stroke-width="1"/>
<line x1="509.5" y1="277.73" x2="644.5" y2="277.73" stroke="#4ed84e" stroke-width="1"/>
<line x1="509.5" y1="282.92" x2="644.5" y2="282.92" stroke="#4ed84e" stroke-width="1"/>
<line x1="509.5" y1="288.11" x2="644.5" y2="288.11" stroke="#4ed84e" stroke-width="1"/>
<line x1="509.5" y1="293.3" x2="644.5" y2="293.3" stroke="#4ed84e" stroke-width="1"/>
<line x1="509.5" y1="298.49" x2="644.5" y2="298.49" stroke="#4ed84e" stroke-width="1"/>
<line x1="509.5" y1="303.68" x2="644.5" y2="303.68" stroke="#4ed84e" stroke-width="1"/>
<line x1="509.5" y1="308.87" x2="644.5" y2="308.87" stroke="#4ed84e" stroke-width="1"/>
<line x1="509.5" y1="314.06" x2="644.5" y2="314.06" stroke="#4ed84e" stroke-width="1"/>
<line x1="509.5" y1="319.25" x2="644.5" y2="319.25" stroke="#4ed84e" stroke-width="1"/>
<line x1="509.5" y1="324.44" x2="644.5" y2="324.44" stroke="#4ed84e" stroke-width="1"/>
<line x1="509.5" y1="329.63" x2="644.5" y2="329.63" stroke="#4ed84e" stroke-width="1"/>
<line x1="509.5" y1="334.82" x2="644.5" y2="334.82" stroke="#4ed84e" stroke-width="1"/>
<line x1="509.5" y1="340.01" x2="644.5" y2="340.01" stroke="#4ed84e" stroke-width="1"/>
<line x1="509.5" y1="345.2" x2="644.5" y2="345.2" stroke="#4ed84e" stroke-width="1"/>
<line x1="509.5" y1="350.39" x2="644.5" y2="350.39" stroke="#4ed84e" stroke-width="1"/>
<line x1="509.5" y1="355.58" x2="644.5" y2="355.58" stroke="#4ed84e" stroke-width="1"/>
<line x1="509.5" y1="360.77" x2="644.5" y2="360.77" stroke="#4ed84e" stroke-width="1"/>
<line x1="509.5" y1="365.96" x2="644.5" y2="365.96" stroke="#4ed84e" stroke-width="1"/>
<line x1="509.5" y1="371.15" x2="644.5" y2="371.15" stroke="#4ed84e" stroke-width="1"/>
<line x1="509.5" y1="376.34" x2="644.5" y2="376.34" stroke="#4ed84e" stroke-width="1"/>
<line x1="509.5" y1="381.53" x2="644.5" y2="381.53" stroke="#4ed84e" stroke-width="1"/>
<line x1="509.5" y1="386.72" x2="644.5" y2="386.72" stroke="#4ed84e" stroke-width="1"/>
<line x1="509.5" y1="391.91" x2="644.5" y2="391.91" stroke="#4ed84e" stroke-width="1"/>
<line x1="514.9" y1="235.7" x2="514.9" y2="403.4" stroke="#4ed84e" stroke-width="1"/>
<line x1="545.8" y1="235.7" x2="545.8" y2="403.4" stroke="#4ed84e" stroke-width="1"/>
<line x1="578.7" y1="235.7" x2="578.7" y2="403.4" stroke="#4ed84e" stroke-width="1"/>
<line x1="584.3" y1="235.7" x2="584.3" y2="403.4" stroke="#4ed84e" stroke-width="1"/>
<line x1="611.5" y1="235.7" x2="611.5" y2="403.4" stroke="#4ed84e" stroke-width="1"/>
<line x1="620.6" y1="235.7" x2="620.6" y2="403.4" stroke="#4ed84e" stroke-width="1"/>
<line x1="629.6" y1="241.4" x2="629.6" y2="403.4" stroke="#4ed84e" stroke-width="1"/>
<rect x="524" y="235.7" width="12.7" height="5.9" fill="#ff0a8c" stroke="none" stroke-width="1" />
<rect x="522.2" y="241.4" width="15.3" height="5.39" fill="#ff0a8c" stroke="none" stroke-width="1" />
<rect x="522.2" y="246.59" width="15.8" height="5.39" fill="#ff0a8c" stroke="none" stroke-width="1" />
<rect x="522.5" y="251.78" width="15" height="5.39" fill="#ff0a8c" stroke="none" stroke-width="1" />
<rect x="523.5" y="256.97" width="14.5" height="5.39" fill="#ff0a8c" stroke="none" stroke-width="1" />
<rect x="524.4" y="262.16" width="11.8" height="5.39" fill="#ff0a8c" stroke="none" stroke-width="1" />
<rect x="525.3" y="267.35" width="10" height="5.39" fill="#ff0a8c" stroke="none" stroke-width="1" />
<rect x="524.4" y="272.54" width="10.6" height="5.39" fill="#ff0a8c" stroke="none" stroke-width="1" />
<rect x="524.4" y="277.73" width="10" height="5.39" fill="#ff0a8c" stroke="none" stroke-width="1" />
<rect x="524.7" y="282.92" width="10.6" height="5.39" fill="#ff0a8c" stroke="none" stroke-width="1" />
<rect x="524.7" y="288.11" width="10.9" height="5.39" fill="#ff0a8c" stroke="none" stroke-width="1" />
<rect x="525.3" y="293.3" width="10" height="5.39" fill="#ff0a8c" stroke="none" stroke-width="1" />
<rect x="527" y="298.49" width="8.3" height="5.39" fill="#ff0a8c" stroke="none" stroke-width="1" />
<rect x="525.3" y="303.68" width="11.4" height="5.39" fill="#ff0a8c" stroke="none" stroke-width="1" />
<rect x="526.2" y="308.87" width="9.1" height="5.39" fill="#ff0a8c" stroke="none" stroke-width="1" />
<rect x="524.4" y="314.06" width="12.1" height="5.39" fill="#ff0a8c" stroke="none" stroke-width="1" />
<rect x="525.3" y="319.25" width="10" height="5.39" fill="#ff0a8c" stroke="none" stroke-width="1" />
<rect x="525.3" y="324.44" width="9.6" height="5.39" fill="#ff0a8c" stroke="none" stroke-width="1" />
<rect x="525.8" y="329.63" width="8.6" height="5.39" fill="#ff0a8c" stroke="none" stroke-width="1" />
<rect x="525.8" y="334.82" width="9.5" height="5.39" fill="#ff0a8c" stroke="none" stroke-width="1" />
<rect x="524.4" y="340.01" width="13.6" height="5.39" fill="#ff0a8c" stroke="none" stroke-width="1" />
<rect x="525.3" y="345.2" width="10.3" height="5.39" fill="#ff0a8c" stroke="none" stroke-width="1" />
<rect x="525.8" y="350.39" width="9.1" height="5.39" fill="#ff0a8c" stroke="none" stroke-width="1" />
<rect x="526.2" y="355.58" width="8.2" height="5.39" fill="#ff0a8c" stroke="none" stroke-width="1" />
<rect x="526.2" y="360.77" width="8.2" height="5.39" fill="#ff0a8c" stroke="none" stroke-width="1" />
<rect x="525.3" y="365.96" width="10.3" height="5.39" fill="#ff0a8c" stroke="none" stroke-width="1" />
<rect x="525.3" y="371.15" width="10" height="5.39" fill="#ff0a8c" stroke="none" stroke-width="1" />
<rect x="524.4" y="376.34" width="11.8" height="5.39" fill="#ff0a8c" stroke="none" stroke-width="1" />
<rect x="524.4" y="381.53" width="12.3" height="5.39" fill="#ff0a8c" stroke="none" stroke-width="1" />
<rect x="526.2" y="386.72" width="9.1" height="5.39" fill="#ff0a8c" stroke="none" stroke-width="1" />
<rect x="556.2" y="235.7" width="11.8" height="5.9" fill="#ff0a8c" stroke="none" stroke-width="1" />
<rect x="557" y="241.4" width="12" height="5.39" fill="#ff0a8c" stroke="none" stroke-width="1" />
<rect x="559.8" y="246.59" width="6" height="5.39" fill="#ff0a8c" stroke="none" stroke-width="1" />
<rect x="558" y="251.78" width="8.2" height="5.39" fill="#ff0a8c" stroke="none" stroke-width="1" />
<rect x="555" y="256.97" width="12" height="5.39" fill="#ff0a8c" stroke="none" stroke-width="1" />
<rect x="555.6" y="262.16" width="10.6" height="5.39" fill="#ff0a8c" stroke="none" stroke-width="1" />
<rect x="556.7" y="267.35" width="9.8" height="5.39" fill="#ff0a8c" stroke="none" stroke-width="1" />
<rect x="557" y="272.54" width="7.4" height="5.39" fill="#ff0a8c" stroke="none" stroke-width="1" />
<rect x="558" y="277.73" width="4.5" height="5.39" fill="#ff0a8c" stroke="none" stroke-width="1" />
<rect x="553" y="282.92" width="16.8" height="5.39" fill="#ff0a8c" stroke="none" stroke-width="1" />
<rect x="556.2" y="288.11" width="10.8" height="5.39" fill="#ff0a8c" stroke="none" stroke-width="1" />
<rect x="558" y="293.3" width="7.3" height="5.39" fill="#ff0a8c" stroke="none" stroke-width="1" />
<rect x="556.7" y="298.49" width="9.1" height="5.39" fill="#ff0a8c" stroke="none" stroke-width="1" />
<rect x="553" y="303.68" width="17.7" height="5.39" fill="#ff0a8c" stroke="none" stroke-width="1" />
<rect x="558" y="308.87" width="10" height="5.39" fill="#ff0a8c" stroke="none" stroke-width="1" />
<rect x="556.2" y="314.06" width="12.7" height="5.39" fill="#ff0a8c" stroke="none" stroke-width="1" />
<rect x="559.8" y="319.25" width="5.5" height="5.39" fill="#ff0a8c" stroke="none" stroke-width="1" />
<rect x="556.7" y="324.44" width="11.3" height="5.39" fill="#ff0a8c" stroke="none" stroke-width="1" />
<rect x="560.7" y="329.63" width="3.7" height="5.39" fill="#ff0a8c" stroke="none" stroke-width="1" />
<rect x="558.9" y="334.82" width="7.3" height="5.39" fill="#ff0a8c" stroke="none" stroke-width="1" />
<rect x="554.4" y="340.01" width="16.3" height="5.39" fill="#ff0a8c" stroke="none" stroke-width="1" />
<rect x="556.7" y="345.2" width="9.8" height="5.39" fill="#ff0a8c" stroke="none" stroke-width="1" />
<rect x="554.4" y="350.39" width="16.3" height="5.39" fill="#ff0a8c" stroke="none" stroke-width="1" />
<rect x="559.8" y="355.58" width="5.5" height="5.39" fill="#ff0a8c" stroke="none" stroke-width="1" />
<rect x="558.9" y="360.77" width="7.3" height="5.39" fill="#ff0a8c" stroke="none" stroke-width="1" />
<rect x="556.2" y="365.96" width="11.8" height="5.39" fill="#ff0a8c" stroke="none" stroke-width="1" />
<rect x="554.4" y="371.15" width="15.4" height="5.39" fill="#ff0a8c" stroke="none" stroke-width="1" />
<rect x="559.8" y="376.34" width="6.4" height="5.39" fill="#ff0a8c" stroke="none" stroke-width="1" />
<rect x="554.4" y="381.53" width="16.3" height="5.39" fill="#ff0a8c" stroke="none" stroke-width="1" />
<rect x="556.2" y="386.72" width="11.8" height="5.39" fill="#ff0a8c" stroke="none" stroke-width="1" />
<rect x="510.7" y="236.4" width="3" height="4.5" fill="#ff0a8c" stroke="none" stroke-width="1" />
<rect x="510.7" y="242.1" width="3" height="3.99" fill="#ff0a8c" stroke="none" stroke-width="1" />
<rect x="510.7" y="247.29" width="3" height="3.99" fill="#ff0a8c" stroke="none" stroke-width="1" />
<rect x="510.7" y="252.48" width="3" height="3.99" fill="#ff0a8c" stroke="none" stroke-width="1" />
<rect x="510.7" y="257.67" width="3" height="3.99" fill="#ff0a8c" stroke="none" stroke-width="1" />
<rect x="510.7" y="262.86" width="3" height="3.99" fill="#ff0a8c" stroke="none" stroke-width="1" />
<rect x="510.7" y="268.05" width="3" height="3.99" fill="#ff0a8c" stroke="none" stroke-width="1" />
<rect x="510.7" y="273.24" width="3" height="3.99" fill="#ff0a8c" stroke="none" stroke-width="1" />
<rect x="510.7" y="278.43" width="3" height="3.99" fill="#ff0a8c" stroke="none" stroke-width="1" />
<rect x="510.7" y="283.62" width="3" height="3.99" fill="#ff0a8c" stroke="none" stroke-width="1" />
<rect x="510.7" y="288.81" width="3" height="3.99" fill="#ff0a8c" stroke="none" stroke-width="1" />
<rect x="510.7" y="294" width="3" height="3.99" fill="#ff0a8c" stroke="none" stroke-width="1" />
<rect x="510.7" y="299.19" width="3" height="3.99" fill="#ff0a8c" stroke="none" stroke-width="1" />
<rect x="510.7" y="304.38" width="3" height="3.99" fill="#ff0a8c" stroke="none" stroke-width="1" />
<rect x="510.7" y="309.57" width="3" height="3.99" fill="#ff0a8c" stroke="none" stroke-width="1" />
<rect x="510.7" y="314.76" width="3" height="3.99" fill="#ff0a8c" stroke="none" stroke-width="1" />
<rect x="510.7" y="319.95" width="3" height="3.99" fill="#ff0a8c" stroke="none" stroke-width="1" />
<rect x="510.7" y="325.14" width="3" height="3.99" fill="#ff0a8c" stroke="none" stroke-width="1" />
<rect x="510.7" y="330.33" width="3" height="3.99" fill="#ff0a8c" stroke="none" stroke-width="1" />
<rect x="510.7" y="335.52" width="3" height="3.99" fill="#ff0a8c" stroke="none" stroke-width="1" />
<rect x="510.7" y="340.71" width="3" height="3.99" fill="#ff0a8c" stroke="none" stroke-width="1" />
<rect x="510.7" y="345.9" width="3" height="3.99" fill="#ff0a8c" stroke="none" stroke-width="1" />
<rect x="510.7" y="351.09" width="3" height="3.99" fill="#ff0a8c" stroke="none" stroke-width="1" />
<rect x="510.7" y="356.28" width="3" height="3.99" fill="#ff0a8c" stroke="none" stroke-width="1" />
<rect x="510.7" y="361.47" width="3" height="3.99" fill="#ff0a8c" stroke="none" stroke-width="1" />
<rect x="510.7" y="366.66" width="3" height="3.99" fill="#ff0a8c" stroke="none" stroke-width="1" />
<rect x="510.7" y="371.85" width="3" height="3.99" fill="#ff0a8c" stroke="none" stroke-width="1" />
<rect x="510.7" y="377.04" width="3" height="3.99" fill="#ff0a8c" stroke="none" stroke-width="1" />
<rect x="510.7" y="382.23" width="3" height="3.99" fill="#ff0a8c" stroke="none" stroke-width="1" />
<rect x="510.7" y="387.42" width="3" height="3.99" fill="#ff0a8c" stroke="none" stroke-width="1" />
<rect x="580.6" y="236.5" width="2.5" height="155" fill="#ff0a8c" stroke="none" stroke-width="1" />
<rect x="597" y="236.5" width="3" height="118.5" fill="#ff0a8c" stroke="none" stroke-width="1" />
<rect x="595" y="284" width="8.2" height="13.6" fill="#ff0a8c" stroke="none" stroke-width="1" />
<rect x="595" y="304" width="7" height="9" fill="#ff0a8c" stroke="none" stroke-width="1" />
<rect x="594.6" y="330.5" width="7.4" height="21" fill="#ff0a8c" stroke="none" stroke-width="1" />
<rect x="596.5" y="362.4" width="3.1" height="3.6" fill="#ff0a8c" stroke="none" stroke-width="1" />
<rect x="594.6" y="381.5" width="7.4" height="5.5" fill="#ff0a8c" stroke="none" stroke-width="1" />
<rect x="597" y="366" width="3" height="15.5" fill="#ff0a8c" stroke="none" stroke-width="1" />
<rect x="633" y="263" width="8" height="4.5" fill="#ff0a8c" stroke="none" stroke-width="1" />
<rect x="630.5" y="267.5" width="12.7" height="4.5" fill="#ff0a8c" stroke="none" stroke-width="1" />
<rect x="633" y="331.5" width="6.5" height="3" fill="#ff0a8c" stroke="none" stroke-width="1" />
<rect x="634" y="356" width="5.5" height="4.5" fill="#ff0a8c" stroke="none" stroke-width="1" />
<rect x="631.4" y="377.8" width="13.1" height="4" fill="#ff0a8c" stroke="none" stroke-width="1" />
<rect x="634" y="387.8" width="5.5" height="3.7" fill="#ff0a8c" stroke="none" stroke-width="1" />
<rect x="511.3" y="394" width="2.5" height="8" fill="#ff0a8c" stroke="none" stroke-width="1" />
<rect x="522.2" y="394.5" width="17.6" height="5.1" fill="#ff0a8c" stroke="none" stroke-width="1" />
<rect x="559.5" y="394.5" width="4" height="5.1" fill="#ff0a8c" stroke="none" stroke-width="1" />
<rect x="580.6" y="393" width="2.5" height="9.5" fill="#ff0a8c" stroke="none" stroke-width="1" />
<rect x="595.4" y="395.2" width="4.5" height="4.5" fill="#ff0a8c" stroke="none" stroke-width="1" />
<rect x="613" y="393.7" width="4.6" height="4" fill="#ff0a8c" stroke="none" stroke-width="1" />
<rect x="622.3" y="393.7" width="4.7" height="4" fill="#ff0a8c" stroke="none" stroke-width="1" />
<rect x="617.6" y="397.2" width="6" height="5.1" fill="#ff0a8c" stroke="none" stroke-width="1" />
<rect x="633" y="395.7" width="6" height="4" fill="#ff0a8c" stroke="none" stroke-width="1" />
<clipPath id="blobclip"><rect x="524" y="235.7" width="12.7" height="5.9"/><rect x="522.2" y="241.4" width="15.3" height="5.39"/><rect x="522.2" y="246.59" width="15.8" height="5.39"/><rect x="522.5" y="251.78" width="15" height="5.39"/><rect x="523.5" y="256.97" width="14.5" height="5.39"/><rect x="524.4" y="262.16" width="11.8" height="5.39"/><rect x="525.3" y="267.35" width="10" height="5.39"/><rect x="524.4" y="272.54" width="10.6" height="5.39"/><rect x="524.4" y="277.73" width="10" height="5.39"/><rect x="524.7" y="282.92" width="10.6" height="5.39"/><rect x="524.7" y="288.11" width="10.9" height="5.39"/><rect x="525.3" y="293.3" width="10" height="5.39"/><rect x="527" y="298.49" width="8.3" height="5.39"/><rect x="525.3" y="303.68" width="11.4" height="5.39"/><rect x="526.2" y="308.87" width="9.1" height="5.39"/><rect x="524.4" y="314.06" width="12.1" height="5.39"/><rect x="525.3" y="319.25" width="10" height="5.39"/><rect x="525.3" y="324.44" width="9.6" height="5.39"/><rect x="525.8" y="329.63" width="8.6" height="5.39"/><rect x="525.8" y="334.82" width="9.5" height="5.39"/><rect x="524.4" y="340.01" width="13.6" height="5.39"/><rect x="525.3" y="345.2" width="10.3" height="5.39"/><rect x="525.8" y="350.39" width="9.1" height="5.39"/><rect x="526.2" y="355.58" width="8.2" height="5.39"/><rect x="526.2" y="360.77" width="8.2" height="5.39"/><rect x="525.3" y="365.96" width="10.3" height="5.39"/><rect x="525.3" y="371.15" width="10" height="5.39"/><rect x="524.4" y="376.34" width="11.8" height="5.39"/><rect x="524.4" y="381.53" width="12.3" height="5.39"/><rect x="526.2" y="386.72" width="9.1" height="5.39"/><rect x="556.2" y="235.7" width="11.8" height="5.9"/><rect x="557" y="241.4" width="12" height="5.39"/><rect x="559.8" y="246.59" width="6" height="5.39"/><rect x="558" y="251.78" width="8.2" height="5.39"/><rect x="555" y="256.97" width="12" height="5.39"/><rect x="555.6" y="262.16" width="10.6" height="5.39"/><rect x="556.7" y="267.35" width="9.8" height="5.39"/><rect x="557" y="272.54" width="7.4" height="5.39"/><rect x="558" y="277.73" width="4.5" height="5.39"/><rect x="553" y="282.92" width="16.8" height="5.39"/><rect x="556.2" y="288.11" width="10.8" height="5.39"/><rect x="558" y="293.3" width="7.3" height="5.39"/><rect x="556.7" y="298.49" width="9.1" height="5.39"/><rect x="553" y="303.68" width="17.7" height="5.39"/><rect x="558" y="308.87" width="10" height="5.39"/><rect x="556.2" y="314.06" width="12.7" height="5.39"/><rect x="559.8" y="319.25" width="5.5" height="5.39"/><rect x="556.7" y="324.44" width="11.3" height="5.39"/><rect x="560.7" y="329.63" width="3.7" height="5.39"/><rect x="558.9" y="334.82" width="7.3" height="5.39"/><rect x="554.4" y="340.01" width="16.3" height="5.39"/><rect x="556.7" y="345.2" width="9.8" height="5.39"/><rect x="554.4" y="350.39" width="16.3" height="5.39"/><rect x="559.8" y="355.58" width="5.5" height="5.39"/><rect x="558.9" y="360.77" width="7.3" height="5.39"/><rect x="556.2" y="365.96" width="11.8" height="5.39"/><rect x="554.4" y="371.15" width="15.4" height="5.39"/><rect x="559.8" y="376.34" width="6.4" height="5.39"/><rect x="554.4" y="381.53" width="16.3" height="5.39"/><rect x="556.2" y="386.72" width="11.8" height="5.39"/><rect x="510.7" y="236.4" width="3" height="4.5"/><rect x="510.7" y="242.1" width="3" height="3.99"/><rect x="510.7" y="247.29" width="3" height="3.99"/><rect x="510.7" y="252.48" width="3" height="3.99"/><rect x="510.7" y="257.67" width="3" height="3.99"/><rect x="510.7" y="262.86" width="3" height="3.99"/><rect x="510.7" y="268.05" width="3" height="3.99"/><rect x="510.7" y="273.24" width="3" height="3.99"/><rect x="510.7" y="278.43" width="3" height="3.99"/><rect x="510.7" y="283.62" width="3" height="3.99"/><rect x="510.7" y="288.81" width="3" height="3.99"/><rect x="510.7" y="294" width="3" height="3.99"/><rect x="510.7" y="299.19" width="3" height="3.99"/><rect x="510.7" y="304.38" width="3" height="3.99"/><rect x="510.7" y="309.57" width="3" height="3.99"/><rect x="510.7" y="314.76" width="3" height="3.99"/><rect x="510.7" y="319.95" width="3" height="3.99"/><rect x="510.7" y="325.14" width="3" height="3.99"/><rect x="510.7" y="330.33" width="3" height="3.99"/><rect x="510.7" y="335.52" width="3" height="3.99"/><rect x="510.7" y="340.71" width="3" height="3.99"/><rect x="510.7" y="345.9" width="3" height="3.99"/><rect x="510.7" y="351.09" width="3" height="3.99"/><rect x="510.7" y="356.28" width="3" height="3.99"/><rect x="510.7" y="361.47" width="3" height="3.99"/><rect x="510.7" y="366.66" width="3" height="3.99"/><rect x="510.7" y="371.85" width="3" height="3.99"/><rect x="510.7" y="377.04" width="3" height="3.99"/><rect x="510.7" y="382.23" width="3" height="3.99"/><rect x="510.7" y="387.42" width="3" height="3.99"/><rect x="580.6" y="236.5" width="2.5" height="155"/><rect x="597" y="236.5" width="3" height="118.5"/><rect x="595" y="284" width="8.2" height="13.6"/><rect x="595" y="304" width="7" height="9"/><rect x="594.6" y="330.5" width="7.4" height="21"/><rect x="596.5" y="362.4" width="3.1" height="3.6"/><rect x="594.6" y="381.5" width="7.4" height="5.5"/><rect x="597" y="366" width="3" height="15.5"/><rect x="633" y="263" width="8" height="4.5"/><rect x="630.5" y="267.5" width="12.7" height="4.5"/><rect x="633" y="331.5" width="6.5" height="3"/><rect x="634" y="356" width="5.5" height="4.5"/><rect x="631.4" y="377.8" width="13.1" height="4"/><rect x="634" y="387.8" width="5.5" height="3.7"/><rect x="511.3" y="394" width="2.5" height="8"/><rect x="522.2" y="394.5" width="17.6" height="5.1"/><rect x="559.5" y="394.5" width="4" height="5.1"/><rect x="580.6" y="393" width="2.5" height="9.5"/><rect x="595.4" y="395.2" width="4.5" height="4.5"/><rect x="613" y="393.7" width="4.6" height="4"/><rect x="622.3" y="393.7" width="4.7" height="4"/><rect x="617.6" y="397.2" width="6" height="5.1"/><rect x="633" y="395.7" width="6" height="4"/></clipPath>
<g clip-path="url(#blobclip)">
<rect x="509.5" y="240.5" width="135" height="1.6" fill="#9a5046"/>
<rect x="509.5" y="245.69" width="135" height="1.6" fill="#9a5046"/>
<rect x="509.5" y="250.88" width="135" height="1.6" fill="#9a5046"/>
<rect x="509.5" y="256.07" width="135" height="1.6" fill="#9a5046"/>
<rect x="509.5" y="261.26" width="135" height="1.6" fill="#9a5046"/>
<rect x="509.5" y="266.45" width="135" height="1.6" fill="#9a5046"/>
<rect x="509.5" y="271.64" width="135" height="1.6" fill="#9a5046"/>
<rect x="509.5" y="276.83" width="135" height="1.6" fill="#9a5046"/>
<rect x="509.5" y="282.02" width="135" height="1.6" fill="#9a5046"/>
<rect x="509.5" y="287.21" width="135" height="1.6" fill="#9a5046"/>
<rect x="509.5" y="292.4" width="135" height="1.6" fill="#9a5046"/>
<rect x="509.5" y="297.59" width="135" height="1.6" fill="#9a5046"/>
<rect x="509.5" y="302.78" width="135" height="1.6" fill="#9a5046"/>
<rect x="509.5" y="307.97" width="135" height="1.6" fill="#9a5046"/>
<rect x="509.5" y="313.16" width="135" height="1.6" fill="#9a5046"/>
<rect x="509.5" y="318.35" width="135" height="1.6" fill="#9a5046"/>
<rect x="509.5" y="323.54" width="135" height="1.6" fill="#9a5046"/>
<rect x="509.5" y="328.73" width="135" height="1.6" fill="#9a5046"/>
<rect x="509.5" y="333.92" width="135" height="1.6" fill="#9a5046"/>
<rect x="509.5" y="339.11" width="135" height="1.6" fill="#9a5046"/>
<rect x="509.5" y="344.3" width="135" height="1.6" fill="#9a5046"/>
<rect x="509.5" y="349.49" width="135" height="1.6" fill="#9a5046"/>
<rect x="509.5" y="354.68" width="135" height="1.6" fill="#9a5046"/>
<rect x="509.5" y="359.87" width="135" height="1.6" fill="#9a5046"/>
<rect x="509.5" y="365.06" width="135" height="1.6" fill="#9a5046"/>
<rect x="509.5" y="370.25" width="135" height="1.6" fill="#9a5046"/>
<rect x="509.5" y="375.44" width="135" height="1.6" fill="#9a5046"/>
<rect x="509.5" y="380.63" width="135" height="1.6" fill="#9a5046"/>
<rect x="509.5" y="385.82" width="135" height="1.6" fill="#9a5046"/>
<rect x="509.5" y="391.01" width="135" height="1.6" fill="#9a5046"/>
<line x1="514.9" y1="235.7" x2="514.9" y2="403.4" stroke="#9a5046" stroke-width="1"/>
<line x1="545.8" y1="235.7" x2="545.8" y2="403.4" stroke="#9a5046" stroke-width="1"/>
<line x1="578.7" y1="235.7" x2="578.7" y2="403.4" stroke="#9a5046" stroke-width="1"/>
<line x1="584.3" y1="235.7" x2="584.3" y2="403.4" stroke="#9a5046" stroke-width="1"/>
<line x1="611.5" y1="235.7" x2="611.5" y2="403.4" stroke="#9a5046" stroke-width="1"/>
<line x1="620.6" y1="235.7" x2="620.6" y2="403.4" stroke="#9a5046" stroke-width="1"/>
<line x1="629.6" y1="241.4" x2="629.6" y2="403.4" stroke="#9a5046" stroke-width="1"/>
</g>
<line x1="509.5" y1="408.4" x2="569.6" y2="408.4" stroke="#4ed84e" stroke-width="1"/>
<line x1="509.5" y1="413.5" x2="569.6" y2="413.5" stroke="#4ed84e" stroke-width="1"/>
<line x1="509.5" y1="418.7" x2="569.6" y2="418.7" stroke="#4ed84e" stroke-width="1"/>
<line x1="509.5" y1="424.7" x2="569.6" y2="424.7" stroke="#4ed84e" stroke-width="1"/>
<line x1="509.5" y1="429.3" x2="569.6" y2="429.3" stroke="#4ed84e" stroke-width="1"/>
<line x1="509.5" y1="434.9" x2="569.6" y2="434.9" stroke="#4ed84e" stroke-width="1"/>
<line x1="509.5" y1="439.4" x2="569.6" y2="439.4" stroke="#4ed84e" stroke-width="1"/>
<line x1="517.1" y1="403.4" x2="517.1" y2="424.7" stroke="#4ed84e" stroke-width="1"/>
<line x1="524.6" y1="403.4" x2="524.6" y2="424.7" stroke="#4ed84e" stroke-width="1"/>
<line x1="536.7" y1="403.4" x2="536.7" y2="424.7" stroke="#4ed84e" stroke-width="1"/>
<line x1="518.2" y1="424.7" x2="518.2" y2="444.4" stroke="#4ed84e" stroke-width="1"/>
<line x1="527.4" y1="424.7" x2="527.4" y2="444.4" stroke="#4ed84e" stroke-width="1"/>
<line x1="539.5" y1="424.7" x2="539.5" y2="444.4" stroke="#4ed84e" stroke-width="1"/>
<line x1="548.7" y1="403.4" x2="548.7" y2="444.4" stroke="#4ed84e" stroke-width="1"/>
<line x1="557.4" y1="403.4" x2="557.4" y2="444.4" stroke="#4ed84e" stroke-width="1"/>
<line x1="569.6" y1="403.4" x2="569.6" y2="444.4" stroke="#4ed84e" stroke-width="1"/>
<line x1="607.3" y1="403.4" x2="607.3" y2="444.4" stroke="#4ed84e" stroke-width="1"/>
<line x1="569.6" y1="424.6" x2="607.3" y2="424.6" stroke="#4ed84e" stroke-width="1"/>
<line x1="569.6" y1="431.5" x2="644.5" y2="431.5" stroke="#4ed84e" stroke-width="1"/>
<line x1="569.6" y1="438.5" x2="607.3" y2="438.5" stroke="#4ed84e" stroke-width="1"/>
<line x1="589" y1="424.6" x2="589" y2="438.5" stroke="#4ed84e" stroke-width="1"/>
<line x1="598.4" y1="424.6" x2="598.4" y2="438.5" stroke="#4ed84e" stroke-width="1"/>
<line x1="574.6" y1="431.5" x2="574.6" y2="438.5" stroke="#4ed84e" stroke-width="1"/>
<line x1="579.4" y1="431.5" x2="579.4" y2="438.5" stroke="#4ed84e" stroke-width="1"/>
<line x1="584.2" y1="431.5" x2="584.2" y2="438.5" stroke="#4ed84e" stroke-width="1"/>
<line x1="607.3" y1="416" x2="617.9" y2="416" stroke="#4ed84e" stroke-width="1"/>
<rect x="511.2" y="419.6" width="5" height="4.3" fill="#ff0a8c" stroke="none" stroke-width="1" />
<rect x="518.2" y="419.6" width="4.7" height="4.3" fill="#ff0a8c" stroke="none" stroke-width="1" />
<rect x="526.8" y="419.4" width="7.1" height="3.4" fill="#ff0a8c" stroke="none" stroke-width="1" />
<rect x="537.5" y="419.4" width="10.1" height="9.2" fill="#ff0a8c" stroke="none" stroke-width="1" />
<rect x="550.4" y="419.6" width="5.6" height="4.3" fill="#ff0a8c" stroke="none" stroke-width="1" />
<rect x="559.3" y="419.6" width="8.4" height="4.3" fill="#ff0a8c" stroke="none" stroke-width="1" />
<rect x="511.2" y="425.5" width="5.6" height="3.1" fill="#ff0a8c" stroke="none" stroke-width="1" />
<rect x="520.1" y="425.5" width="6.2" height="3.1" fill="#ff0a8c" stroke="none" stroke-width="1" />
<rect x="529.9" y="424.3" width="7" height="3.7" fill="#ff0a8c" stroke="none" stroke-width="1" />
<rect x="511.2" y="430.3" width="5.6" height="3.3" fill="#ff0a8c" stroke="none" stroke-width="1" />
<rect x="511.2" y="435.3" width="5.6" height="3.4" fill="#ff0a8c" stroke="none" stroke-width="1" />
<rect x="511.2" y="439.8" width="5.6" height="3.9" fill="#ff0a8c" stroke="none" stroke-width="1" />
<rect x="540.8" y="439.8" width="6.2" height="3.9" fill="#ff0a8c" stroke="none" stroke-width="1" />
<rect x="575.2" y="425.9" width="9.6" height="3.6" fill="#ff0a8c" stroke="none" stroke-width="1" />
<rect x="590.2" y="425.9" width="5.5" height="3.6" fill="#ff0a8c" stroke="none" stroke-width="1" />
<rect x="599.6" y="426.2" width="5.1" height="3.3" fill="#ff0a8c" stroke="none" stroke-width="1" />
<rect x="600.5" y="433" width="1.7" height="3.7" fill="#ff0a8c" stroke="none" stroke-width="1" />
<rect x="603" y="433" width="1.7" height="3.7" fill="#ff0a8c" stroke="none" stroke-width="1" />
<rect x="575.2" y="439.7" width="25.9" height="3.6" fill="#ff0a8c" stroke="none" stroke-width="1" />
<rect x="607.7" y="417.4" width="9" height="3" fill="#ff0a8c" stroke="none" stroke-width="1" />
<rect x="618.1" y="404.8" width="3.7" height="4.2" fill="#ff0a8c" stroke="none" stroke-width="1" />
<rect x="619.88" y="405.07" width="0.92" height="0.63" fill="#000" stroke="none" stroke-width="1" />
<rect x="619.22" y="406.32" width="1.66" height="0.84" fill="#000" stroke="none" stroke-width="1" />
<rect x="619.13" y="406.64" width="1.29" height="0.84" fill="#000" stroke="none" stroke-width="1" />
<rect x="618.58" y="406.78" width="0.93" height="0.63" fill="#000" stroke="none" stroke-width="1" />
<rect x="618.99" y="407.69" width="1.3" height="0.63" fill="#000" stroke="none" stroke-width="1" />
<rect x="622.3" y="404.8" width="3.7" height="4.2" fill="#ff0a8c" stroke="none" stroke-width="1" />
<rect x="624.72" y="405.93" width="0.92" height="1.26" fill="#000" stroke="none" stroke-width="1" />
<rect x="622.73" y="405.59" width="1.66" height="1.26" fill="#000" stroke="none" stroke-width="1" />
<rect x="623.07" y="408.05" width="0.92" height="0.84" fill="#000" stroke="none" stroke-width="1" />
<rect x="623.7" y="406.65" width="0.92" height="1.26" fill="#000" stroke="none" stroke-width="1" />
<rect x="626.5" y="404.8" width="3.7" height="4.2" fill="#ff0a8c" stroke="none" stroke-width="1" />
<rect x="628.99" y="406.09" width="0.92" height="0.84" fill="#000" stroke="none" stroke-width="1" />
<rect x="627.38" y="405.85" width="1.66" height="0.84" fill="#000" stroke="none" stroke-width="1" />
<rect x="626.59" y="407.33" width="0.93" height="0.63" fill="#000" stroke="none" stroke-width="1" />
<rect x="627.68" y="405.02" width="1.29" height="1.26" fill="#000" stroke="none" stroke-width="1" />
<rect x="618.1" y="410.6" width="3.7" height="4.4" fill="#ff0a8c" stroke="none" stroke-width="1" />
<rect x="619.98" y="411.44" width="1.3" height="0.66" fill="#000" stroke="none" stroke-width="1" />
<rect x="620.8" y="410.94" width="0.93" height="1.32" fill="#000" stroke="none" stroke-width="1" />
<rect x="619.42" y="412.96" width="1.66" height="1.32" fill="#000" stroke="none" stroke-width="1" />
<rect x="619.43" y="410.75" width="1.29" height="0.66" fill="#000" stroke="none" stroke-width="1" />
<rect x="619.68" y="410.74" width="0.92" height="0.66" fill="#000" stroke="none" stroke-width="1" />
<rect x="622.3" y="410.6" width="3.7" height="4.4" fill="#ff0a8c" stroke="none" stroke-width="1" />
<rect x="623" y="412.56" width="0.92" height="1.32" fill="#000" stroke="none" stroke-width="1" />
<rect x="622.5" y="411.72" width="1.66" height="0.66" fill="#000" stroke="none" stroke-width="1" />
<rect x="623.09" y="411.44" width="1.66" height="0.66" fill="#000" stroke="none" stroke-width="1" />
<rect x="622.32" y="411.73" width="1.66" height="0.66" fill="#000" stroke="none" stroke-width="1" />
<rect x="626.5" y="410.6" width="3.7" height="4.4" fill="#ff0a8c" stroke="none" stroke-width="1" />
<rect x="628.05" y="413.71" width="1.29" height="0.88" fill="#000" stroke="none" stroke-width="1" />
<rect x="627.06" y="411.36" width="1.29" height="1.32" fill="#000" stroke="none" stroke-width="1" />
<rect x="628.06" y="410.77" width="1.3" height="1.32" fill="#000" stroke="none" stroke-width="1" />
<rect x="628.96" y="412.88" width="0.93" height="0.88" fill="#000" stroke="none" stroke-width="1" />
<rect x="627.13" y="412.09" width="0.93" height="0.88" fill="#000" stroke="none" stroke-width="1" />
<rect x="618.1" y="415.8" width="4.68" height="6.4" fill="#ff0a8c" stroke="none" stroke-width="1" />
<rect x="618.22" y="417.53" width="1.17" height="1.28" fill="#000" stroke="none" stroke-width="1" />
<rect x="620.18" y="416.81" width="1.64" height="1.28" fill="#000" stroke="none" stroke-width="1" />
<rect x="620.67" y="416.1" width="1.64" height="1.92" fill="#000" stroke="none" stroke-width="1" />
<rect x="619.05" y="420.26" width="1.64" height="0.96" fill="#000" stroke="none" stroke-width="1" />
<rect x="623.28" y="415.8" width="4.68" height="6.4" fill="#ff0a8c" stroke="none" stroke-width="1" />
<rect x="624.09" y="420.64" width="1.64" height="0.96" fill="#000" stroke="none" stroke-width="1" />
<rect x="625.02" y="416.64" width="1.17" height="1.92" fill="#000" stroke="none" stroke-width="1" />
<rect x="624.74" y="419.21" width="1.17" height="1.28" fill="#000" stroke="none" stroke-width="1" />
<rect x="625.65" y="416.1" width="2.11" height="0.96" fill="#000" stroke="none" stroke-width="1" />
<rect x="628.46" y="415.8" width="4.68" height="6.4" fill="#ff0a8c" stroke="none" stroke-width="1" />
<rect x="629.53" y="419.66" width="2.11" height="0.96" fill="#000" stroke="none" stroke-width="1" />
<rect x="630.04" y="419.45" width="1.17" height="1.28" fill="#000" stroke="none" stroke-width="1" />
<rect x="628.8" y="416.16" width="1.64" height="1.92" fill="#000" stroke="none" stroke-width="1" />
<rect x="633.64" y="415.8" width="4.68" height="6.4" fill="#ff0a8c" stroke="none" stroke-width="1" />
<rect x="634.2" y="420.89" width="1.64" height="0.96" fill="#000" stroke="none" stroke-width="1" />
<rect x="633.72" y="419.2" width="2.11" height="1.28" fill="#000" stroke="none" stroke-width="1" />
<rect x="636.64" y="418.07" width="1.64" height="1.28" fill="#000" stroke="none" stroke-width="1" />
<rect x="633.91" y="416.24" width="1.17" height="0.96" fill="#000" stroke="none" stroke-width="1" />
<rect x="638.82" y="415.8" width="4.68" height="6.4" fill="#ff0a8c" stroke="none" stroke-width="1" />
<rect x="642.2" y="416.73" width="1.17" height="1.92" fill="#000" stroke="none" stroke-width="1" />
<rect x="641.32" y="418.01" width="1.64" height="1.28" fill="#000" stroke="none" stroke-width="1" />
<rect x="640.48" y="417.47" width="1.17" height="1.92" fill="#000" stroke="none" stroke-width="1" />
<rect x="639.8" y="419.81" width="1.64" height="0.96" fill="#000" stroke="none" stroke-width="1" />
<rect x="640.74" y="417.15" width="1.64" height="0.96" fill="#000" stroke="none" stroke-width="1" />
<rect x="614.5" y="423.4" width="4.06" height="5.5" fill="#ff0a8c" stroke="none" stroke-width="1" />
<rect x="614.61" y="423.68" width="1.01" height="1.1" fill="#000" stroke="none" stroke-width="1" />
<rect x="615.09" y="423.68" width="1.01" height="1.1" fill="#000" stroke="none" stroke-width="1" />
<rect x="615.31" y="424.87" width="1.83" height="1.1" fill="#000" stroke="none" stroke-width="1" />
<rect x="615.09" y="426.75" width="1.83" height="0.82" fill="#000" stroke="none" stroke-width="1" />
<rect x="615.28" y="426.57" width="1.42" height="1.1" fill="#000" stroke="none" stroke-width="1" />
<rect x="619.06" y="423.4" width="4.06" height="5.5" fill="#ff0a8c" stroke="none" stroke-width="1" />
<rect x="619.39" y="426.75" width="1.01" height="0.82" fill="#000" stroke="none" stroke-width="1" />
<rect x="621.14" y="427.42" width="1.42" height="1.1" fill="#000" stroke="none" stroke-width="1" />
<rect x="621.51" y="424.26" width="1.42" height="0.82" fill="#000" stroke="none" stroke-width="1" />
<rect x="623.62" y="423.4" width="4.06" height="5.5" fill="#ff0a8c" stroke="none" stroke-width="1" />
<rect x="624.98" y="424.93" width="1.83" height="0.82" fill="#000" stroke="none" stroke-width="1" />
<rect x="624.57" y="426.84" width="1.42" height="1.1" fill="#000" stroke="none" stroke-width="1" />
<rect x="624.22" y="426.3" width="1.01" height="1.65" fill="#000" stroke="none" stroke-width="1" />
<rect x="623.82" y="423.55" width="1.01" height="1.1" fill="#000" stroke="none" stroke-width="1" />
<rect x="628.18" y="423.4" width="4.06" height="5.5" fill="#ff0a8c" stroke="none" stroke-width="1" />
<rect x="630.87" y="427.75" width="1.01" height="1.1" fill="#000" stroke="none" stroke-width="1" />
<rect x="628.4" y="423.77" width="1.42" height="1.65" fill="#000" stroke="none" stroke-width="1" />
<rect x="630.75" y="424.07" width="1.42" height="1.65" fill="#000" stroke="none" stroke-width="1" />
<rect x="629.58" y="427.32" width="1.01" height="1.1" fill="#000" stroke="none" stroke-width="1" />
<rect x="632.74" y="423.4" width="4.06" height="5.5" fill="#ff0a8c" stroke="none" stroke-width="1" />
<rect x="634.63" y="425.96" width="1.83" height="1.65" fill="#000" stroke="none" stroke-width="1" />
<rect x="633.63" y="425.89" width="1.01" height="1.1" fill="#000" stroke="none" stroke-width="1" />
<rect x="634.69" y="424.28" width="1.42" height="1.1" fill="#000" stroke="none" stroke-width="1" />
<rect x="633.49" y="424.12" width="1.01" height="0.82" fill="#000" stroke="none" stroke-width="1" />
<rect x="609.7" y="434.6" width="4.14" height="6" fill="#ff0a8c" stroke="none" stroke-width="1" />
<rect x="610.77" y="439.66" width="1.45" height="0.9" fill="#000" stroke="none" stroke-width="1" />
<rect x="610.23" y="438" width="1.86" height="1.8" fill="#000" stroke="none" stroke-width="1" />
<rect x="611.96" y="435.09" width="1.86" height="1.2" fill="#000" stroke="none" stroke-width="1" />
<rect x="611.96" y="439.26" width="1.45" height="0.9" fill="#000" stroke="none" stroke-width="1" />
<rect x="614.34" y="434.6" width="4.14" height="6" fill="#ff0a8c" stroke="none" stroke-width="1" />
<rect x="614.66" y="435.57" width="1.45" height="0.9" fill="#000" stroke="none" stroke-width="1" />
<rect x="616.46" y="436.5" width="1.86" height="0.9" fill="#000" stroke="none" stroke-width="1" />
<rect x="616.22" y="438.32" width="1.04" height="1.2" fill="#000" stroke="none" stroke-width="1" />
<rect x="618.99" y="434.6" width="4.14" height="6" fill="#ff0a8c" stroke="none" stroke-width="1" />
<rect x="620.84" y="437.2" width="1.04" height="1.8" fill="#000" stroke="none" stroke-width="1" />
<rect x="620.13" y="435.32" width="1.04" height="0.9" fill="#000" stroke="none" stroke-width="1" />
<rect x="619.1" y="438.11" width="1.04" height="1.2" fill="#000" stroke="none" stroke-width="1" />
<rect x="623.63" y="434.6" width="4.14" height="6" fill="#ff0a8c" stroke="none" stroke-width="1" />
<rect x="624.9" y="436.38" width="1.04" height="1.2" fill="#000" stroke="none" stroke-width="1" />
<rect x="623.81" y="434.75" width="1.86" height="1.2" fill="#000" stroke="none" stroke-width="1" />
<rect x="624.93" y="436.31" width="1.45" height="1.8" fill="#000" stroke="none" stroke-width="1" />
<rect x="625.11" y="437.28" width="1.45" height="1.8" fill="#000" stroke="none" stroke-width="1" />
<rect x="628.27" y="434.6" width="4.14" height="6" fill="#ff0a8c" stroke="none" stroke-width="1" />
<rect x="629.18" y="435.98" width="1.86" height="0.9" fill="#000" stroke="none" stroke-width="1" />
<rect x="629.1" y="438.6" width="1.45" height="1.8" fill="#000" stroke="none" stroke-width="1" />
<rect x="629.8" y="436.1" width="1.45" height="1.8" fill="#000" stroke="none" stroke-width="1" />
<rect x="632.91" y="434.6" width="4.14" height="6" fill="#ff0a8c" stroke="none" stroke-width="1" />
<rect x="634.92" y="436.48" width="1.04" height="1.2" fill="#000" stroke="none" stroke-width="1" />
<rect x="635.45" y="436.81" width="1.45" height="0.9" fill="#000" stroke="none" stroke-width="1" />
<rect x="633.27" y="435.03" width="1.04" height="1.2" fill="#000" stroke="none" stroke-width="1" />
<rect x="633.96" y="435.38" width="1.86" height="1.2" fill="#000" stroke="none" stroke-width="1" />
<rect x="634.63" y="437.87" width="1.04" height="0.9" fill="#000" stroke="none" stroke-width="1" />
<rect x="637.56" y="434.6" width="4.14" height="6" fill="#ff0a8c" stroke="none" stroke-width="1" />
<rect x="639.49" y="436.16" width="1.04" height="1.8" fill="#000" stroke="none" stroke-width="1" />
<rect x="637.89" y="436.04" width="1.86" height="0.9" fill="#000" stroke="none" stroke-width="1" />
<rect x="639.67" y="435.15" width="1.86" height="0.9" fill="#000" stroke="none" stroke-width="1" />
<rect x="638.37" y="438.87" width="1.45" height="0.9" fill="#000" stroke="none" stroke-width="1" />
<rect x="638.53" y="437.52" width="1.04" height="1.2" fill="#000" stroke="none" stroke-width="1" />
<line x1="509.5" y1="235.7" x2="644.5" y2="235.7" stroke="#ffffff" stroke-width="1.1"/>
<line x1="509.5" y1="235.7" x2="509.5" y2="444.4" stroke="#ffffff" stroke-width="1.1"/>
<line x1="509.5" y1="403.4" x2="644.5" y2="403.4" stroke="#ffffff" stroke-width="1.1"/>
</svg></body></html>
